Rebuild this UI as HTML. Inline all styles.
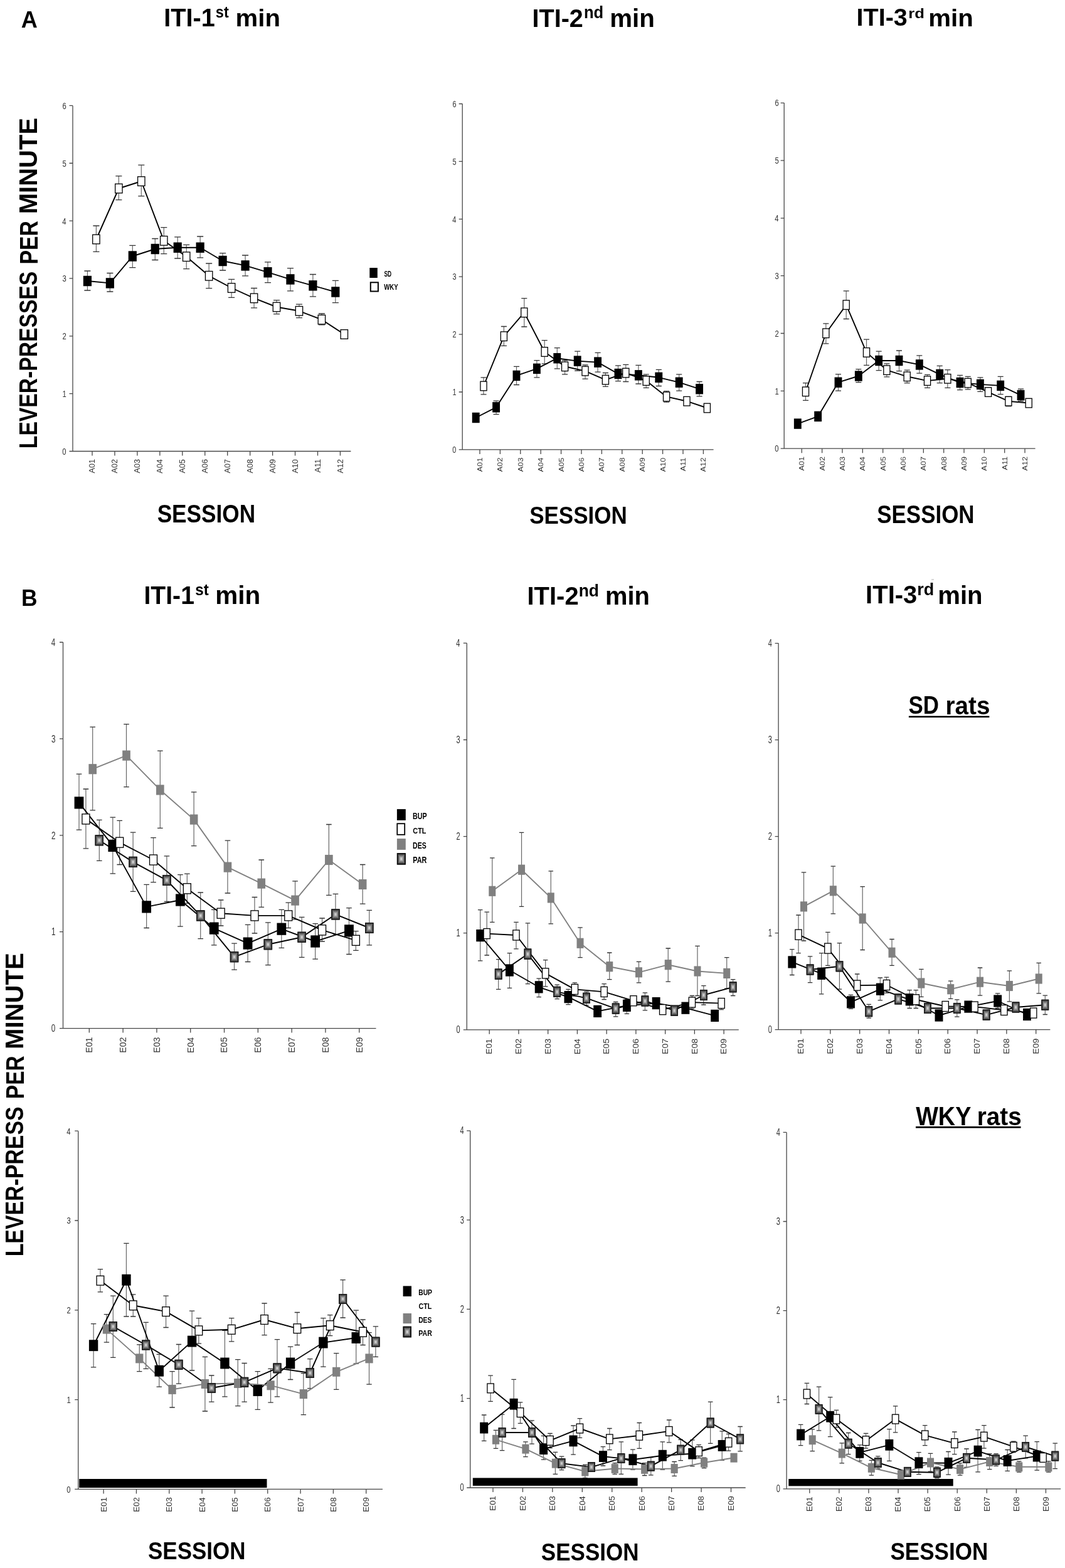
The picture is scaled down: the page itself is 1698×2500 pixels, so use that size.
<!DOCTYPE html>
<html><head><meta charset="utf-8"><title>Lever-presses per minute</title>
<style>html,body{margin:0;padding:0;background:#fff;overflow:hidden;}svg{display:block;}</style></head>
<body>
<svg width="1698" height="2500" viewBox="0 0 1698 2500" font-family="'Liberation Sans', Arial, sans-serif">
<defs>
<linearGradient id="gt" x1="0" y1="0" x2="0" y2="1"><stop offset="0" stop-color="#2a2a2a"/><stop offset="0.4" stop-color="#666"/><stop offset="0.75" stop-color="#b0b0b0"/><stop offset="1" stop-color="#f5f5f5"/></linearGradient>
<linearGradient id="gb" x1="0" y1="1" x2="0" y2="0"><stop offset="0" stop-color="#2a2a2a"/><stop offset="0.4" stop-color="#666"/><stop offset="0.75" stop-color="#b0b0b0"/><stop offset="1" stop-color="#f5f5f5"/></linearGradient>
<linearGradient id="gl" x1="0" y1="0" x2="1" y2="0"><stop offset="0" stop-color="#2a2a2a"/><stop offset="0.4" stop-color="#666"/><stop offset="0.75" stop-color="#b0b0b0"/><stop offset="1" stop-color="#f5f5f5"/></linearGradient>
<linearGradient id="gr" x1="1" y1="0" x2="0" y2="0"><stop offset="0" stop-color="#2a2a2a"/><stop offset="0.4" stop-color="#666"/><stop offset="0.75" stop-color="#b0b0b0"/><stop offset="1" stop-color="#f5f5f5"/></linearGradient>
</defs>
<rect width="1698" height="2500" fill="#fff"/>
<path d="M116.00,168.40V719.50M110.50,719.50H559.40" stroke="#474747" stroke-width="1.3" fill="none"/>
<path d="M110.50,627.65H116.00M110.50,535.80H116.00M110.50,443.95H116.00M110.50,352.10H116.00M110.50,260.25H116.00M110.50,168.40H116.00M147.00,719.50v7M182.95,719.50v7M218.90,719.50v7M254.85,719.50v7M290.80,719.50v7M326.75,719.50v7M362.70,719.50v7M398.65,719.50v7M434.60,719.50v7M470.55,719.50v7M506.50,719.50v7M542.45,719.50v7" stroke="#474747" stroke-width="1.3" fill="none"/>
<text transform="translate(99.35,724.85) scale(0.7263,1.0002)" font-size="15.49" fill="#333">0</text>
<text transform="translate(99.46,633.00) scale(0.7263,1.0002)" font-size="15.49" fill="#333">1</text>
<text transform="translate(99.46,541.22) scale(0.7263,1.0002)" font-size="15.49" fill="#333">2</text>
<text transform="translate(99.46,449.30) scale(0.7263,1.0002)" font-size="15.49" fill="#333">3</text>
<text transform="translate(99.24,357.52) scale(0.7263,1.0002)" font-size="15.49" fill="#333">4</text>
<text transform="translate(99.46,265.52) scale(0.7263,1.0002)" font-size="15.49" fill="#333">5</text>
<text transform="translate(99.46,173.75) scale(0.7263,1.0002)" font-size="15.49" fill="#333">6</text>
<text transform="translate(151.13,754.40) rotate(-90) scale(1.0527,1.0002)" font-size="11.97" fill="#333">A01</text>
<text transform="translate(187.08,754.40) rotate(-90) scale(1.0527,1.0002)" font-size="11.97" fill="#333">A02</text>
<text transform="translate(223.03,754.40) rotate(-90) scale(1.0527,1.0002)" font-size="11.97" fill="#333">A03</text>
<text transform="translate(258.98,754.65) rotate(-90) scale(1.0527,1.0002)" font-size="11.97" fill="#333">A04</text>
<text transform="translate(294.93,754.53) rotate(-90) scale(1.0527,1.0002)" font-size="11.97" fill="#333">A05</text>
<text transform="translate(330.88,754.40) rotate(-90) scale(1.0527,1.0002)" font-size="11.97" fill="#333">A06</text>
<text transform="translate(366.83,754.40) rotate(-90) scale(1.0527,1.0002)" font-size="11.97" fill="#333">A07</text>
<text transform="translate(402.78,754.40) rotate(-90) scale(1.0527,1.0002)" font-size="11.97" fill="#333">A08</text>
<text transform="translate(438.73,754.40) rotate(-90) scale(1.0527,1.0002)" font-size="11.97" fill="#333">A09</text>
<text transform="translate(474.68,754.53) rotate(-90) scale(1.0527,1.0002)" font-size="11.97" fill="#333">A10</text>
<text transform="translate(510.63,753.52) rotate(-90) scale(1.0527,1.0002)" font-size="11.97" fill="#333">A11</text>
<text transform="translate(546.64,754.40) rotate(-90) scale(1.0527,1.0002)" font-size="11.97" fill="#333">A12</text>
<path d="M139.40,432.00V463.00M175.35,435.50V465.00M211.30,391.40V426.70M247.25,380.50V414.50M283.20,377.90V412.00M319.15,377.00V410.80M355.10,403.60V431.00M391.05,407.00V439.80M427.00,417.80V450.70M462.95,427.60V463.90M498.90,437.50V472.80M534.85,447.40V482.70M153.40,360.00V401.30M189.35,280.70V318.60M225.30,263.20V312.60M261.25,362.70V404.60M297.20,390.40V428.60M333.15,420.00V459.60M369.10,445.40V474.40M405.05,459.50V490.80M441.00,478.60V500.70M476.95,485.20V506.70M512.90,500.00V517.90" stroke="#666" stroke-width="1.2" fill="none"/>
<path d="M134.37,432.00h10.066000000000003M134.37,463.00h10.066000000000003M170.32,435.50h10.066000000000003M170.32,465.00h10.066000000000003M206.27,391.40h10.066000000000003M206.27,426.70h10.066000000000003M242.22,380.50h10.066000000000003M242.22,414.50h10.066000000000003M278.17,377.90h10.066000000000003M278.17,412.00h10.066000000000003M314.12,377.00h10.066000000000003M314.12,410.80h10.066000000000003M350.07,403.60h10.066000000000003M350.07,431.00h10.066000000000003M386.02,407.00h10.066000000000003M386.02,439.80h10.066000000000003M421.97,417.80h10.066000000000003M421.97,450.70h10.066000000000003M457.92,427.60h10.066000000000003M457.92,463.90h10.066000000000003M493.87,437.50h10.066000000000003M493.87,472.80h10.066000000000003M529.82,447.40h10.066000000000003M529.82,482.70h10.066000000000003M148.37,360.00h10.066000000000003M148.37,401.30h10.066000000000003M184.32,280.70h10.066000000000003M184.32,318.60h10.066000000000003M220.27,263.20h10.066000000000003M220.27,312.60h10.066000000000003M256.22,362.70h10.066000000000003M256.22,404.60h10.066000000000003M292.17,390.40h10.066000000000003M292.17,428.60h10.066000000000003M328.12,420.00h10.066000000000003M328.12,459.60h10.066000000000003M364.07,445.40h10.066000000000003M364.07,474.40h10.066000000000003M400.02,459.50h10.066000000000003M400.02,490.80h10.066000000000003M435.97,478.60h10.066000000000003M435.97,500.70h10.066000000000003M471.92,485.20h10.066000000000003M471.92,506.70h10.066000000000003M507.87,500.00h10.066000000000003M507.87,517.90h10.066000000000003" stroke="#333" stroke-width="1.3" fill="none"/>
<polyline points="139.40,448.00 175.35,451.40 211.30,408.50 247.25,397.00 283.20,394.70 319.15,394.70 355.10,416.00 391.05,423.40 427.00,434.20 462.95,445.40 498.90,455.30 534.85,465.50" fill="none" stroke="#000" stroke-width="1.9" stroke-linejoin="round"/>
<polyline points="153.40,381.50 189.35,300.50 225.30,289.00 261.25,383.80 297.20,409.20 333.15,439.80 369.10,459.00 405.05,475.40 441.00,489.50 476.95,495.80 512.90,509.60 548.85,533.00" fill="none" stroke="#000" stroke-width="1.9" stroke-linejoin="round"/>
<rect x="132.80" y="439.78" width="13.193650000000002" height="16.441149999999997" fill="#000"/>
<rect x="168.75" y="443.18" width="13.193650000000002" height="16.441149999999997" fill="#000"/>
<rect x="204.70" y="400.28" width="13.193650000000002" height="16.441149999999997" fill="#000"/>
<rect x="240.65" y="388.78" width="13.193650000000002" height="16.441149999999997" fill="#000"/>
<rect x="276.60" y="386.48" width="13.193650000000002" height="16.441149999999997" fill="#000"/>
<rect x="312.55" y="386.48" width="13.193650000000002" height="16.441149999999997" fill="#000"/>
<rect x="348.50" y="407.78" width="13.193650000000002" height="16.441149999999997" fill="#000"/>
<rect x="384.45" y="415.18" width="13.193650000000002" height="16.441149999999997" fill="#000"/>
<rect x="420.40" y="425.98" width="13.193650000000002" height="16.441149999999997" fill="#000"/>
<rect x="456.35" y="437.18" width="13.193650000000002" height="16.441149999999997" fill="#000"/>
<rect x="492.30" y="447.08" width="13.193650000000002" height="16.441149999999997" fill="#000"/>
<rect x="528.25" y="457.28" width="13.193650000000002" height="16.441149999999997" fill="#000"/>
<rect x="147.70" y="374.20" width="11.39" height="14.59" fill="#fff" stroke="#000" stroke-width="1.3"/>
<rect x="183.65" y="293.20" width="11.39" height="14.59" fill="#fff" stroke="#000" stroke-width="1.3"/>
<rect x="219.60" y="281.70" width="11.39" height="14.59" fill="#fff" stroke="#000" stroke-width="1.3"/>
<rect x="255.55" y="376.50" width="11.39" height="14.59" fill="#fff" stroke="#000" stroke-width="1.3"/>
<rect x="291.50" y="401.90" width="11.39" height="14.59" fill="#fff" stroke="#000" stroke-width="1.3"/>
<rect x="327.45" y="432.50" width="11.39" height="14.59" fill="#fff" stroke="#000" stroke-width="1.3"/>
<rect x="363.40" y="451.70" width="11.39" height="14.59" fill="#fff" stroke="#000" stroke-width="1.3"/>
<rect x="399.35" y="468.10" width="11.39" height="14.59" fill="#fff" stroke="#000" stroke-width="1.3"/>
<rect x="435.30" y="482.20" width="11.39" height="14.59" fill="#fff" stroke="#000" stroke-width="1.3"/>
<rect x="471.25" y="488.50" width="11.39" height="14.59" fill="#fff" stroke="#000" stroke-width="1.3"/>
<rect x="507.20" y="502.30" width="11.39" height="14.59" fill="#fff" stroke="#000" stroke-width="1.3"/>
<rect x="543.15" y="525.70" width="11.39" height="14.59" fill="#fff" stroke="#000" stroke-width="1.3"/>
<path d="M737.20,165.50V716.90M731.70,716.90H1137.60" stroke="#474747" stroke-width="1.3" fill="none"/>
<path d="M731.70,625.00H737.20M731.70,533.10H737.20M731.70,441.20H737.20M731.70,349.30H737.20M731.70,257.40H737.20M731.70,165.50H737.20M765.00,716.90v7M797.40,716.90v7M829.80,716.90v7M862.20,716.90v7M894.60,716.90v7M927.00,716.90v7M959.40,716.90v7M991.80,716.90v7M1024.20,716.90v7M1056.60,716.90v7M1089.00,716.90v7M1121.40,716.90v7" stroke="#474747" stroke-width="1.3" fill="none"/>
<text transform="translate(721.27,722.15) scale(0.7123,1.0001)" font-size="15.21" fill="#333">0</text>
<text transform="translate(721.38,630.25) scale(0.7123,1.0001)" font-size="15.21" fill="#333">1</text>
<text transform="translate(721.38,538.42) scale(0.7123,1.0001)" font-size="15.21" fill="#333">2</text>
<text transform="translate(721.38,446.45) scale(0.7123,1.0001)" font-size="15.21" fill="#333">3</text>
<text transform="translate(721.16,354.62) scale(0.7123,1.0001)" font-size="15.21" fill="#333">4</text>
<text transform="translate(721.38,262.57) scale(0.7123,1.0001)" font-size="15.21" fill="#333">5</text>
<text transform="translate(721.38,170.75) scale(0.7123,1.0001)" font-size="15.21" fill="#333">6</text>
<text transform="translate(768.98,752.20) rotate(-90) scale(1.1060,0.9999)" font-size="11.55" fill="#333">A01</text>
<text transform="translate(801.38,752.20) rotate(-90) scale(1.1060,0.9999)" font-size="11.55" fill="#333">A02</text>
<text transform="translate(833.78,752.20) rotate(-90) scale(1.1060,0.9999)" font-size="11.55" fill="#333">A03</text>
<text transform="translate(866.18,752.46) rotate(-90) scale(1.1060,0.9999)" font-size="11.55" fill="#333">A04</text>
<text transform="translate(898.58,752.33) rotate(-90) scale(1.1060,0.9999)" font-size="11.55" fill="#333">A05</text>
<text transform="translate(930.98,752.20) rotate(-90) scale(1.1060,0.9999)" font-size="11.55" fill="#333">A06</text>
<text transform="translate(963.38,752.20) rotate(-90) scale(1.1060,0.9999)" font-size="11.55" fill="#333">A07</text>
<text transform="translate(995.78,752.20) rotate(-90) scale(1.1060,0.9999)" font-size="11.55" fill="#333">A08</text>
<text transform="translate(1028.18,752.20) rotate(-90) scale(1.1060,0.9999)" font-size="11.55" fill="#333">A09</text>
<text transform="translate(1060.58,752.33) rotate(-90) scale(1.1060,0.9999)" font-size="11.55" fill="#333">A10</text>
<text transform="translate(1092.98,751.31) rotate(-90) scale(1.1060,0.9999)" font-size="11.55" fill="#333">A11</text>
<text transform="translate(1125.44,752.20) rotate(-90) scale(1.1060,0.9999)" font-size="11.55" fill="#333">A12</text>
<path d="M791.10,639.10V660.70M823.50,584.30V613.50M855.90,574.70V601.80M888.30,554.60V587.80M920.70,560.10V591.00M953.10,562.40V593.10M985.50,582.90V607.60M1017.90,582.30V612.00M1050.30,589.30V615.50M1082.70,596.90V623.10M1115.10,608.50V631.80M771.00,601.80V628.90M803.40,520.50V551.40M835.80,475.60V521.00M868.20,542.60V579.90M900.60,574.70V596.90M933.00,582.00V604.10M965.40,594.50V616.40M997.80,581.40V608.50M1030.20,596.90V618.40M1062.60,623.70V641.20" stroke="#666" stroke-width="1.2" fill="none"/>
<path d="M786.56,639.10h9.072000000000001M786.56,660.70h9.072000000000001M818.96,584.30h9.072000000000001M818.96,613.50h9.072000000000001M851.36,574.70h9.072000000000001M851.36,601.80h9.072000000000001M883.76,554.60h9.072000000000001M883.76,587.80h9.072000000000001M916.16,560.10h9.072000000000001M916.16,591.00h9.072000000000001M948.56,562.40h9.072000000000001M948.56,593.10h9.072000000000001M980.96,582.90h9.072000000000001M980.96,607.60h9.072000000000001M1013.36,582.30h9.072000000000001M1013.36,612.00h9.072000000000001M1045.76,589.30h9.072000000000001M1045.76,615.50h9.072000000000001M1078.16,596.90h9.072000000000001M1078.16,623.10h9.072000000000001M1110.56,608.50h9.072000000000001M1110.56,631.80h9.072000000000001M766.46,601.80h9.072000000000001M766.46,628.90h9.072000000000001M798.86,520.50h9.072000000000001M798.86,551.40h9.072000000000001M831.26,475.60h9.072000000000001M831.26,521.00h9.072000000000001M863.66,542.60h9.072000000000001M863.66,579.90h9.072000000000001M896.06,574.70h9.072000000000001M896.06,596.90h9.072000000000001M928.46,582.00h9.072000000000001M928.46,604.10h9.072000000000001M960.86,594.50h9.072000000000001M960.86,616.40h9.072000000000001M993.26,581.40h9.072000000000001M993.26,608.50h9.072000000000001M1025.66,596.90h9.072000000000001M1025.66,618.40h9.072000000000001M1058.06,623.70h9.072000000000001M1058.06,641.20h9.072000000000001" stroke="#333" stroke-width="1.3" fill="none"/>
<polyline points="758.70,666.00 791.10,649.30 823.50,598.90 855.90,587.80 888.30,571.20 920.70,575.60 953.10,577.60 985.50,596.00 1017.90,598.30 1050.30,601.80 1082.70,609.70 1115.10,620.20" fill="none" stroke="#000" stroke-width="1.9" stroke-linejoin="round"/>
<polyline points="771.00,615.50 803.40,536.20 835.80,498.30 868.20,561.00 900.60,584.30 933.00,591.60 965.40,605.60 997.80,594.50 1030.20,607.10 1062.60,632.40 1095.00,639.70 1127.40,650.50" fill="none" stroke="#000" stroke-width="1.9" stroke-linejoin="round"/>
<rect x="752.75" y="657.77" width="11.890799999999999" height="16.4501" fill="#000"/>
<rect x="785.15" y="641.07" width="11.890799999999999" height="16.4501" fill="#000"/>
<rect x="817.55" y="590.67" width="11.890799999999999" height="16.4501" fill="#000"/>
<rect x="849.95" y="579.57" width="11.890799999999999" height="16.4501" fill="#000"/>
<rect x="882.35" y="562.97" width="11.890799999999999" height="16.4501" fill="#000"/>
<rect x="914.75" y="567.37" width="11.890799999999999" height="16.4501" fill="#000"/>
<rect x="947.15" y="569.37" width="11.890799999999999" height="16.4501" fill="#000"/>
<rect x="979.55" y="587.77" width="11.890799999999999" height="16.4501" fill="#000"/>
<rect x="1011.95" y="590.07" width="11.890799999999999" height="16.4501" fill="#000"/>
<rect x="1044.35" y="593.57" width="11.890799999999999" height="16.4501" fill="#000"/>
<rect x="1076.75" y="601.47" width="11.890799999999999" height="16.4501" fill="#000"/>
<rect x="1109.15" y="611.97" width="11.890799999999999" height="16.4501" fill="#000"/>
<rect x="765.93" y="608.20" width="10.14" height="14.60" fill="#fff" stroke="#000" stroke-width="1.3"/>
<rect x="798.33" y="528.90" width="10.14" height="14.60" fill="#fff" stroke="#000" stroke-width="1.3"/>
<rect x="830.73" y="491.00" width="10.14" height="14.60" fill="#fff" stroke="#000" stroke-width="1.3"/>
<rect x="863.13" y="553.70" width="10.14" height="14.60" fill="#fff" stroke="#000" stroke-width="1.3"/>
<rect x="895.53" y="577.00" width="10.14" height="14.60" fill="#fff" stroke="#000" stroke-width="1.3"/>
<rect x="927.93" y="584.30" width="10.14" height="14.60" fill="#fff" stroke="#000" stroke-width="1.3"/>
<rect x="960.33" y="598.30" width="10.14" height="14.60" fill="#fff" stroke="#000" stroke-width="1.3"/>
<rect x="992.73" y="587.20" width="10.14" height="14.60" fill="#fff" stroke="#000" stroke-width="1.3"/>
<rect x="1025.13" y="599.80" width="10.14" height="14.60" fill="#fff" stroke="#000" stroke-width="1.3"/>
<rect x="1057.53" y="625.10" width="10.14" height="14.60" fill="#fff" stroke="#000" stroke-width="1.3"/>
<rect x="1089.93" y="632.40" width="10.14" height="14.60" fill="#fff" stroke="#000" stroke-width="1.3"/>
<rect x="1122.33" y="643.20" width="10.14" height="14.60" fill="#fff" stroke="#000" stroke-width="1.3"/>
<path d="M1250.20,164.10V715.20M1244.70,715.20H1650.60" stroke="#474747" stroke-width="1.3" fill="none"/>
<path d="M1244.70,623.35H1250.20M1244.70,531.50H1250.20M1244.70,439.65H1250.20M1244.70,347.80H1250.20M1244.70,255.95H1250.20M1244.70,164.10H1250.20M1278.30,715.20v7M1310.64,715.20v7M1342.98,715.20v7M1375.32,715.20v7M1407.66,715.20v7M1440.00,715.20v7M1472.34,715.20v7M1504.68,715.20v7M1537.02,715.20v7M1569.36,715.20v7M1601.70,715.20v7M1634.04,715.20v7" stroke="#474747" stroke-width="1.3" fill="none"/>
<text transform="translate(1235.35,720.45) scale(0.7396,1.0001)" font-size="15.21" fill="#333">0</text>
<text transform="translate(1235.46,628.60) scale(0.7396,1.0001)" font-size="15.21" fill="#333">1</text>
<text transform="translate(1235.46,536.82) scale(0.7396,1.0001)" font-size="15.21" fill="#333">2</text>
<text transform="translate(1235.46,444.90) scale(0.7396,1.0001)" font-size="15.21" fill="#333">3</text>
<text transform="translate(1235.24,353.12) scale(0.7396,1.0001)" font-size="15.21" fill="#333">4</text>
<text transform="translate(1235.46,261.12) scale(0.7396,1.0001)" font-size="15.21" fill="#333">5</text>
<text transform="translate(1235.46,169.35) scale(0.7396,1.0001)" font-size="15.21" fill="#333">6</text>
<text transform="translate(1282.28,750.50) rotate(-90) scale(1.1060,0.9999)" font-size="11.55" fill="#333">A01</text>
<text transform="translate(1314.62,750.50) rotate(-90) scale(1.1060,0.9999)" font-size="11.55" fill="#333">A02</text>
<text transform="translate(1346.96,750.50) rotate(-90) scale(1.1060,0.9999)" font-size="11.55" fill="#333">A03</text>
<text transform="translate(1379.30,750.76) rotate(-90) scale(1.1060,0.9999)" font-size="11.55" fill="#333">A04</text>
<text transform="translate(1411.64,750.63) rotate(-90) scale(1.1060,0.9999)" font-size="11.55" fill="#333">A05</text>
<text transform="translate(1443.98,750.50) rotate(-90) scale(1.1060,0.9999)" font-size="11.55" fill="#333">A06</text>
<text transform="translate(1476.32,750.50) rotate(-90) scale(1.1060,0.9999)" font-size="11.55" fill="#333">A07</text>
<text transform="translate(1508.66,750.50) rotate(-90) scale(1.1060,0.9999)" font-size="11.55" fill="#333">A08</text>
<text transform="translate(1541.00,750.50) rotate(-90) scale(1.1060,0.9999)" font-size="11.55" fill="#333">A09</text>
<text transform="translate(1573.34,750.63) rotate(-90) scale(1.1060,0.9999)" font-size="11.55" fill="#333">A10</text>
<text transform="translate(1605.68,749.61) rotate(-90) scale(1.1060,0.9999)" font-size="11.55" fill="#333">A11</text>
<text transform="translate(1638.08,750.50) rotate(-90) scale(1.1060,0.9999)" font-size="11.55" fill="#333">A12</text>
<path d="M1336.48,596.60V623.10M1368.82,588.70V609.70M1401.16,560.10V590.70M1433.50,559.00V591.60M1465.84,566.80V595.10M1498.18,583.40V610.60M1530.52,598.30V621.60M1562.86,601.80V624.30M1595.20,600.30V628.60M1627.54,620.20V639.70M1284.50,610.60V638.30M1316.84,515.80V547.90M1349.18,463.90V508.50M1381.52,541.20V582.30M1413.86,579.90V600.90M1446.20,590.10V610.60M1478.54,597.40V618.40M1510.88,589.60V618.40M1543.22,600.30V620.80M1575.56,617.80V631.80M1607.90,632.40V647.60" stroke="#666" stroke-width="1.2" fill="none"/>
<path d="M1331.95,596.60h9.055200000000001M1331.95,623.10h9.055200000000001M1364.29,588.70h9.055200000000001M1364.29,609.70h9.055200000000001M1396.63,560.10h9.055200000000001M1396.63,590.70h9.055200000000001M1428.97,559.00h9.055200000000001M1428.97,591.60h9.055200000000001M1461.31,566.80h9.055200000000001M1461.31,595.10h9.055200000000001M1493.65,583.40h9.055200000000001M1493.65,610.60h9.055200000000001M1525.99,598.30h9.055200000000001M1525.99,621.60h9.055200000000001M1558.33,601.80h9.055200000000001M1558.33,624.30h9.055200000000001M1590.67,600.30h9.055200000000001M1590.67,628.60h9.055200000000001M1623.01,620.20h9.055200000000001M1623.01,639.70h9.055200000000001M1279.97,610.60h9.055200000000001M1279.97,638.30h9.055200000000001M1312.31,515.80h9.055200000000001M1312.31,547.90h9.055200000000001M1344.65,463.90h9.055200000000001M1344.65,508.50h9.055200000000001M1376.99,541.20h9.055200000000001M1376.99,582.30h9.055200000000001M1409.33,579.90h9.055200000000001M1409.33,600.90h9.055200000000001M1441.67,590.10h9.055200000000001M1441.67,610.60h9.055200000000001M1474.01,597.40h9.055200000000001M1474.01,618.40h9.055200000000001M1506.35,589.60h9.055200000000001M1506.35,618.40h9.055200000000001M1538.69,600.30h9.055200000000001M1538.69,620.80h9.055200000000001M1571.03,617.80h9.055200000000001M1571.03,631.80h9.055200000000001M1603.37,632.40h9.055200000000001M1603.37,647.60h9.055200000000001" stroke="#333" stroke-width="1.3" fill="none"/>
<polyline points="1271.80,675.60 1304.14,663.90 1336.48,609.70 1368.82,599.50 1401.16,575.00 1433.50,575.00 1465.84,581.40 1498.18,596.90 1530.52,610.00 1562.86,612.90 1595.20,614.90 1627.54,630.10" fill="none" stroke="#000" stroke-width="1.9" stroke-linejoin="round"/>
<polyline points="1284.50,624.30 1316.84,531.30 1349.18,486.10 1381.52,561.90 1413.86,590.10 1446.20,600.30 1478.54,607.10 1510.88,603.80 1543.22,610.60 1575.56,625.10 1607.90,639.70 1640.24,642.60" fill="none" stroke="#000" stroke-width="1.9" stroke-linejoin="round"/>
<rect x="1265.87" y="667.38" width="11.868780000000001" height="16.441149999999997" fill="#000"/>
<rect x="1298.21" y="655.68" width="11.868780000000001" height="16.441149999999997" fill="#000"/>
<rect x="1330.55" y="601.48" width="11.868780000000001" height="16.441149999999997" fill="#000"/>
<rect x="1362.89" y="591.28" width="11.868780000000001" height="16.441149999999997" fill="#000"/>
<rect x="1395.23" y="566.78" width="11.868780000000001" height="16.441149999999997" fill="#000"/>
<rect x="1427.57" y="566.78" width="11.868780000000001" height="16.441149999999997" fill="#000"/>
<rect x="1459.91" y="573.18" width="11.868780000000001" height="16.441149999999997" fill="#000"/>
<rect x="1492.25" y="588.68" width="11.868780000000001" height="16.441149999999997" fill="#000"/>
<rect x="1524.59" y="601.78" width="11.868780000000001" height="16.441149999999997" fill="#000"/>
<rect x="1556.93" y="604.68" width="11.868780000000001" height="16.441149999999997" fill="#000"/>
<rect x="1589.27" y="606.68" width="11.868780000000001" height="16.441149999999997" fill="#000"/>
<rect x="1621.61" y="621.88" width="11.868780000000001" height="16.441149999999997" fill="#000"/>
<rect x="1279.44" y="617.00" width="10.12" height="14.59" fill="#fff" stroke="#000" stroke-width="1.3"/>
<rect x="1311.78" y="524.00" width="10.12" height="14.59" fill="#fff" stroke="#000" stroke-width="1.3"/>
<rect x="1344.12" y="478.80" width="10.12" height="14.59" fill="#fff" stroke="#000" stroke-width="1.3"/>
<rect x="1376.46" y="554.60" width="10.12" height="14.59" fill="#fff" stroke="#000" stroke-width="1.3"/>
<rect x="1408.80" y="582.80" width="10.12" height="14.59" fill="#fff" stroke="#000" stroke-width="1.3"/>
<rect x="1441.14" y="593.00" width="10.12" height="14.59" fill="#fff" stroke="#000" stroke-width="1.3"/>
<rect x="1473.48" y="599.80" width="10.12" height="14.59" fill="#fff" stroke="#000" stroke-width="1.3"/>
<rect x="1505.82" y="596.50" width="10.12" height="14.59" fill="#fff" stroke="#000" stroke-width="1.3"/>
<rect x="1538.16" y="603.30" width="10.12" height="14.59" fill="#fff" stroke="#000" stroke-width="1.3"/>
<rect x="1570.50" y="617.80" width="10.12" height="14.59" fill="#fff" stroke="#000" stroke-width="1.3"/>
<rect x="1602.84" y="632.40" width="10.12" height="14.59" fill="#fff" stroke="#000" stroke-width="1.3"/>
<rect x="1635.18" y="635.30" width="10.12" height="14.59" fill="#fff" stroke="#000" stroke-width="1.3"/>
<path d="M100.50,1024.00V1639.60M95.00,1639.60H599.50" stroke="#474747" stroke-width="1.3" fill="none"/>
<path d="M95.00,1485.70H100.50M95.00,1331.80H100.50M95.00,1177.90H100.50M95.00,1024.00H100.50M142.30,1639.60v7M196.11,1639.60v7M249.92,1639.60v7M303.73,1639.60v7M357.54,1639.60v7M411.35,1639.60v7M465.16,1639.60v7M518.97,1639.60v7M572.78,1639.60v7" stroke="#474747" stroke-width="1.3" fill="none"/>
<text transform="translate(81.83,1645.33) scale(0.7020,1.0000)" font-size="16.62" fill="#333">0</text>
<text transform="translate(81.95,1491.43) scale(0.7020,1.0000)" font-size="16.62" fill="#333">1</text>
<text transform="translate(81.95,1337.62) scale(0.7020,1.0000)" font-size="16.62" fill="#333">2</text>
<text transform="translate(81.95,1183.63) scale(0.7020,1.0000)" font-size="16.62" fill="#333">3</text>
<text transform="translate(81.72,1029.82) scale(0.7020,1.0000)" font-size="16.62" fill="#333">4</text>
<text transform="translate(147.11,1678.68) rotate(-90) scale(1.0130,1.0003)" font-size="13.94" fill="#333">E01</text>
<text transform="translate(200.92,1678.68) rotate(-90) scale(1.0130,1.0003)" font-size="13.94" fill="#333">E02</text>
<text transform="translate(254.73,1678.68) rotate(-90) scale(1.0130,1.0003)" font-size="13.94" fill="#333">E03</text>
<text transform="translate(308.54,1678.96) rotate(-90) scale(1.0130,1.0003)" font-size="13.94" fill="#333">E04</text>
<text transform="translate(362.35,1678.82) rotate(-90) scale(1.0130,1.0003)" font-size="13.94" fill="#333">E05</text>
<text transform="translate(416.16,1678.68) rotate(-90) scale(1.0130,1.0003)" font-size="13.94" fill="#333">E06</text>
<text transform="translate(469.97,1678.68) rotate(-90) scale(1.0130,1.0003)" font-size="13.94" fill="#333">E07</text>
<text transform="translate(523.78,1678.68) rotate(-90) scale(1.0130,1.0003)" font-size="13.94" fill="#333">E08</text>
<text transform="translate(577.59,1678.68) rotate(-90) scale(1.0130,1.0003)" font-size="13.94" fill="#333">E09</text>
<path d="M126.00,1234.10V1323.10M179.81,1303.20V1392.90M233.62,1410.30V1479.50M287.43,1394.60V1477.10M341.24,1450.40V1506.80M395.05,1474.30V1533.50M448.86,1450.40V1511.30M502.67,1472.60V1529.10M556.48,1447.60V1521.50M136.90,1258.00V1352.80M190.71,1308.30V1378.50M244.52,1335.70V1406.60M298.33,1393.20V1440.10M352.14,1435.00V1476.00M405.95,1430.50V1488.00M459.76,1439.10V1479.50M513.57,1464.00V1501.00M567.38,1484.60V1515.40M147.70,1159.10V1291.90M201.51,1154.70V1254.60M255.32,1197.10V1320.30M309.13,1262.80V1348.70M362.94,1340.20V1424.00M416.75,1371.00V1446.30M470.56,1404.80V1465.80M524.37,1314.50V1427.40M578.18,1378.50V1441.10M158.30,1307.30V1372.30M212.11,1327.20V1421.30M265.92,1364.80V1437.40M319.73,1423.00V1496.60M373.54,1504.10V1546.20M427.35,1470.90V1538.70M481.16,1462.30V1526.30M534.97,1425.40V1489.70M588.78,1451.40V1506.80" stroke="#666" stroke-width="1.2" fill="none"/>
<path d="M121.70,1234.10h8.6096M121.70,1323.10h8.6096M175.51,1303.20h8.6096M175.51,1392.90h8.6096M229.32,1410.30h8.6096M229.32,1479.50h8.6096M283.13,1394.60h8.6096M283.13,1477.10h8.6096M336.94,1450.40h8.6096M336.94,1506.80h8.6096M390.75,1474.30h8.6096M390.75,1533.50h8.6096M444.56,1450.40h8.6096M444.56,1511.30h8.6096M498.37,1472.60h8.6096M498.37,1529.10h8.6096M552.18,1447.60h8.6096M552.18,1521.50h8.6096M132.60,1258.00h8.6096M132.60,1352.80h8.6096M186.41,1308.30h8.6096M186.41,1378.50h8.6096M240.22,1335.70h8.6096M240.22,1406.60h8.6096M294.03,1393.20h8.6096M294.03,1440.10h8.6096M347.84,1435.00h8.6096M347.84,1476.00h8.6096M401.65,1430.50h8.6096M401.65,1488.00h8.6096M455.46,1439.10h8.6096M455.46,1479.50h8.6096M509.27,1464.00h8.6096M509.27,1501.00h8.6096M563.08,1484.60h8.6096M563.08,1515.40h8.6096M143.40,1159.10h8.6096M143.40,1291.90h8.6096M197.21,1154.70h8.6096M197.21,1254.60h8.6096M251.02,1197.10h8.6096M251.02,1320.30h8.6096M304.83,1262.80h8.6096M304.83,1348.70h8.6096M358.64,1340.20h8.6096M358.64,1424.00h8.6096M412.45,1371.00h8.6096M412.45,1446.30h8.6096M466.26,1404.80h8.6096M466.26,1465.80h8.6096M520.07,1314.50h8.6096M520.07,1427.40h8.6096M573.88,1378.50h8.6096M573.88,1441.10h8.6096M154.00,1307.30h8.6096M154.00,1372.30h8.6096M207.81,1327.20h8.6096M207.81,1421.30h8.6096M261.62,1364.80h8.6096M261.62,1437.40h8.6096M315.43,1423.00h8.6096M315.43,1496.60h8.6096M369.24,1504.10h8.6096M369.24,1546.20h8.6096M423.05,1470.90h8.6096M423.05,1538.70h8.6096M476.86,1462.30h8.6096M476.86,1526.30h8.6096M530.67,1425.40h8.6096M530.67,1489.70h8.6096M584.48,1451.40h8.6096M584.48,1506.80h8.6096" stroke="#333" stroke-width="1.3" fill="none"/>
<polyline points="126.00,1279.90 179.81,1348.40 233.62,1445.90 287.43,1435.00 341.24,1480.10 395.05,1504.10 448.86,1481.20 502.67,1501.00 556.48,1483.90" fill="none" stroke="#000" stroke-width="1.9" stroke-linejoin="round"/>
<polyline points="136.90,1305.90 190.71,1343.20 244.52,1371.00 298.33,1416.80 352.14,1456.20 405.95,1459.90 459.76,1459.90 513.57,1482.90 567.38,1499.30" fill="none" stroke="#000" stroke-width="1.9" stroke-linejoin="round"/>
<polyline points="147.70,1226.20 201.51,1204.60 255.32,1259.40 309.13,1306.60 362.94,1382.60 416.75,1408.60 470.56,1435.60 524.37,1371.00 578.18,1410.00" fill="none" stroke="#808080" stroke-width="1.9" stroke-linejoin="round"/>
<polyline points="158.30,1339.80 212.11,1374.40 265.92,1403.50 319.73,1459.90 373.54,1525.70 427.35,1505.80 481.16,1494.20 534.97,1457.90 588.78,1479.50" fill="none" stroke="#000" stroke-width="1.9" stroke-linejoin="round"/>
<rect x="118.60" y="1270.28" width="14.797750000000002" height="19.2375" fill="#000"/>
<rect x="172.41" y="1338.78" width="14.797750000000002" height="19.2375" fill="#000"/>
<rect x="226.22" y="1436.28" width="14.797750000000002" height="19.2375" fill="#000"/>
<rect x="280.03" y="1425.38" width="14.797750000000002" height="19.2375" fill="#000"/>
<rect x="333.84" y="1470.48" width="14.797750000000002" height="19.2375" fill="#000"/>
<rect x="387.65" y="1494.48" width="14.797750000000002" height="19.2375" fill="#000"/>
<rect x="441.46" y="1471.58" width="14.797750000000002" height="19.2375" fill="#000"/>
<rect x="495.27" y="1491.38" width="14.797750000000002" height="19.2375" fill="#000"/>
<rect x="549.08" y="1474.28" width="14.797750000000002" height="19.2375" fill="#000"/>
<rect x="130.90" y="1297.85" width="11.99" height="16.09" fill="#fff" stroke="#000" stroke-width="1.3"/>
<rect x="184.71" y="1335.15" width="11.99" height="16.09" fill="#fff" stroke="#000" stroke-width="1.3"/>
<rect x="238.52" y="1362.95" width="11.99" height="16.09" fill="#fff" stroke="#000" stroke-width="1.3"/>
<rect x="292.33" y="1408.75" width="11.99" height="16.09" fill="#fff" stroke="#000" stroke-width="1.3"/>
<rect x="346.14" y="1448.15" width="11.99" height="16.09" fill="#fff" stroke="#000" stroke-width="1.3"/>
<rect x="399.95" y="1451.85" width="11.99" height="16.09" fill="#fff" stroke="#000" stroke-width="1.3"/>
<rect x="453.76" y="1451.85" width="11.99" height="16.09" fill="#fff" stroke="#000" stroke-width="1.3"/>
<rect x="507.57" y="1474.85" width="11.99" height="16.09" fill="#fff" stroke="#000" stroke-width="1.3"/>
<rect x="561.38" y="1491.25" width="11.99" height="16.09" fill="#fff" stroke="#000" stroke-width="1.3"/>
<rect x="141.38" y="1218.12" width="12.64535" height="16.1595" fill="#808080"/>
<rect x="195.19" y="1196.52" width="12.64535" height="16.1595" fill="#808080"/>
<rect x="249.00" y="1251.32" width="12.64535" height="16.1595" fill="#808080"/>
<rect x="302.81" y="1298.52" width="12.64535" height="16.1595" fill="#808080"/>
<rect x="356.62" y="1374.52" width="12.64535" height="16.1595" fill="#808080"/>
<rect x="410.43" y="1400.52" width="12.64535" height="16.1595" fill="#808080"/>
<rect x="464.24" y="1427.52" width="12.64535" height="16.1595" fill="#808080"/>
<rect x="518.05" y="1362.92" width="12.64535" height="16.1595" fill="#808080"/>
<rect x="571.86" y="1401.92" width="12.64535" height="16.1595" fill="#808080"/>
<rect x="151.57" y="1331.26" width="13.45" height="17.08" fill="#8a8a8a"/><polygon points="151.57,1331.26 165.03,1331.26 158.30,1339.80" fill="url(#gt)"/><polygon points="151.57,1348.34 165.03,1348.34 158.30,1339.80" fill="url(#gb)"/><polygon points="151.57,1331.26 151.57,1348.34 158.30,1339.80" fill="url(#gl)"/><polygon points="165.03,1331.26 165.03,1348.34 158.30,1339.80" fill="url(#gr)"/><rect x="152.32" y="1332.01" width="11.95" height="15.58" fill="none" stroke="#1a1a1a" stroke-width="1.5"/>
<rect x="205.38" y="1365.86" width="13.45" height="17.08" fill="#8a8a8a"/><polygon points="205.38,1365.86 218.84,1365.86 212.11,1374.40" fill="url(#gt)"/><polygon points="205.38,1382.94 218.84,1382.94 212.11,1374.40" fill="url(#gb)"/><polygon points="205.38,1365.86 205.38,1382.94 212.11,1374.40" fill="url(#gl)"/><polygon points="218.84,1365.86 218.84,1382.94 212.11,1374.40" fill="url(#gr)"/><rect x="206.13" y="1366.61" width="11.95" height="15.58" fill="none" stroke="#1a1a1a" stroke-width="1.5"/>
<rect x="259.19" y="1394.96" width="13.45" height="17.08" fill="#8a8a8a"/><polygon points="259.19,1394.96 272.65,1394.96 265.92,1403.50" fill="url(#gt)"/><polygon points="259.19,1412.04 272.65,1412.04 265.92,1403.50" fill="url(#gb)"/><polygon points="259.19,1394.96 259.19,1412.04 265.92,1403.50" fill="url(#gl)"/><polygon points="272.65,1394.96 272.65,1412.04 265.92,1403.50" fill="url(#gr)"/><rect x="259.94" y="1395.71" width="11.95" height="15.58" fill="none" stroke="#1a1a1a" stroke-width="1.5"/>
<rect x="313.00" y="1451.36" width="13.45" height="17.08" fill="#8a8a8a"/><polygon points="313.00,1451.36 326.46,1451.36 319.73,1459.90" fill="url(#gt)"/><polygon points="313.00,1468.44 326.46,1468.44 319.73,1459.90" fill="url(#gb)"/><polygon points="313.00,1451.36 313.00,1468.44 319.73,1459.90" fill="url(#gl)"/><polygon points="326.46,1451.36 326.46,1468.44 319.73,1459.90" fill="url(#gr)"/><rect x="313.75" y="1452.11" width="11.95" height="15.58" fill="none" stroke="#1a1a1a" stroke-width="1.5"/>
<rect x="366.81" y="1517.16" width="13.45" height="17.08" fill="#8a8a8a"/><polygon points="366.81,1517.16 380.27,1517.16 373.54,1525.70" fill="url(#gt)"/><polygon points="366.81,1534.24 380.27,1534.24 373.54,1525.70" fill="url(#gb)"/><polygon points="366.81,1517.16 366.81,1534.24 373.54,1525.70" fill="url(#gl)"/><polygon points="380.27,1517.16 380.27,1534.24 373.54,1525.70" fill="url(#gr)"/><rect x="367.56" y="1517.91" width="11.95" height="15.58" fill="none" stroke="#1a1a1a" stroke-width="1.5"/>
<rect x="420.62" y="1497.26" width="13.45" height="17.08" fill="#8a8a8a"/><polygon points="420.62,1497.26 434.08,1497.26 427.35,1505.80" fill="url(#gt)"/><polygon points="420.62,1514.34 434.08,1514.34 427.35,1505.80" fill="url(#gb)"/><polygon points="420.62,1497.26 420.62,1514.34 427.35,1505.80" fill="url(#gl)"/><polygon points="434.08,1497.26 434.08,1514.34 427.35,1505.80" fill="url(#gr)"/><rect x="421.37" y="1498.01" width="11.95" height="15.58" fill="none" stroke="#1a1a1a" stroke-width="1.5"/>
<rect x="474.43" y="1485.66" width="13.45" height="17.08" fill="#8a8a8a"/><polygon points="474.43,1485.66 487.89,1485.66 481.16,1494.20" fill="url(#gt)"/><polygon points="474.43,1502.74 487.89,1502.74 481.16,1494.20" fill="url(#gb)"/><polygon points="474.43,1485.66 474.43,1502.74 481.16,1494.20" fill="url(#gl)"/><polygon points="487.89,1485.66 487.89,1502.74 481.16,1494.20" fill="url(#gr)"/><rect x="475.18" y="1486.41" width="11.95" height="15.58" fill="none" stroke="#1a1a1a" stroke-width="1.5"/>
<rect x="528.24" y="1449.36" width="13.45" height="17.08" fill="#8a8a8a"/><polygon points="528.24,1449.36 541.70,1449.36 534.97,1457.90" fill="url(#gt)"/><polygon points="528.24,1466.44 541.70,1466.44 534.97,1457.90" fill="url(#gb)"/><polygon points="528.24,1449.36 528.24,1466.44 534.97,1457.90" fill="url(#gl)"/><polygon points="541.70,1449.36 541.70,1466.44 534.97,1457.90" fill="url(#gr)"/><rect x="528.99" y="1450.11" width="11.95" height="15.58" fill="none" stroke="#1a1a1a" stroke-width="1.5"/>
<rect x="582.05" y="1470.96" width="13.45" height="17.08" fill="#8a8a8a"/><polygon points="582.05,1470.96 595.51,1470.96 588.78,1479.50" fill="url(#gt)"/><polygon points="582.05,1488.04 595.51,1488.04 588.78,1479.50" fill="url(#gb)"/><polygon points="582.05,1470.96 582.05,1488.04 588.78,1479.50" fill="url(#gl)"/><polygon points="595.51,1470.96 595.51,1488.04 588.78,1479.50" fill="url(#gr)"/><rect x="582.80" y="1471.71" width="11.95" height="15.58" fill="none" stroke="#1a1a1a" stroke-width="1.5"/>
<path d="M744.30,1025.40V1641.80M738.80,1641.80H1177.80" stroke="#474747" stroke-width="1.3" fill="none"/>
<path d="M738.80,1487.70H744.30M738.80,1333.60H744.30M738.80,1179.50H744.30M738.80,1025.40H744.30M780.20,1641.80v7M826.94,1641.80v7M873.68,1641.80v7M920.42,1641.80v7M967.16,1641.80v7M1013.90,1641.80v7M1060.64,1641.80v7M1107.38,1641.80v7M1154.12,1641.80v7" stroke="#474747" stroke-width="1.3" fill="none"/>
<text transform="translate(727.46,1647.24) scale(0.7002,1.0003)" font-size="15.77" fill="#333">0</text>
<text transform="translate(727.57,1493.14) scale(0.7002,1.0003)" font-size="15.77" fill="#333">1</text>
<text transform="translate(727.57,1339.12) scale(0.7002,1.0003)" font-size="15.77" fill="#333">2</text>
<text transform="translate(727.57,1184.94) scale(0.7002,1.0003)" font-size="15.77" fill="#333">3</text>
<text transform="translate(727.35,1030.92) scale(0.7002,1.0003)" font-size="15.77" fill="#333">4</text>
<text transform="translate(784.43,1680.98) rotate(-90) scale(1.1528,1.0003)" font-size="12.25" fill="#333">E01</text>
<text transform="translate(831.17,1680.98) rotate(-90) scale(1.1528,1.0003)" font-size="12.25" fill="#333">E02</text>
<text transform="translate(877.91,1680.98) rotate(-90) scale(1.1528,1.0003)" font-size="12.25" fill="#333">E03</text>
<text transform="translate(924.65,1681.26) rotate(-90) scale(1.1528,1.0003)" font-size="12.25" fill="#333">E04</text>
<text transform="translate(971.39,1681.12) rotate(-90) scale(1.1528,1.0003)" font-size="12.25" fill="#333">E05</text>
<text transform="translate(1018.13,1680.98) rotate(-90) scale(1.1528,1.0003)" font-size="12.25" fill="#333">E06</text>
<text transform="translate(1064.87,1680.98) rotate(-90) scale(1.1528,1.0003)" font-size="12.25" fill="#333">E07</text>
<text transform="translate(1111.61,1680.98) rotate(-90) scale(1.1528,1.0003)" font-size="12.25" fill="#333">E08</text>
<text transform="translate(1158.35,1680.98) rotate(-90) scale(1.1528,1.0003)" font-size="12.25" fill="#333">E09</text>
<path d="M765.70,1450.60V1531.80M812.44,1519.60V1575.30M859.18,1560.10V1589.60M905.92,1577.40V1601.70M999.40,1593.50V1616.30M1046.14,1591.10V1607.80M1092.88,1599.00V1614.80M776.20,1454.20V1523.00M822.94,1470.30V1512.90M869.68,1530.60V1572.90M916.42,1566.80V1588.10M963.16,1568.60V1593.50M1009.90,1589.00V1601.70M1103.38,1587.50V1608.10M1150.12,1592.60V1609.70M784.80,1367.80V1470.30M831.54,1327.40V1445.40M878.28,1388.80V1472.80M925.02,1478.90V1526.60M971.76,1519.00V1561.60M1018.50,1533.30V1566.80M1065.24,1512.00V1565.20M1111.98,1508.40V1587.50M1158.72,1526.60V1576.20M794.70,1529.70V1577.40M841.44,1471.90V1568.60M888.18,1570.10V1592.60M934.92,1581.40V1602.70M981.66,1597.50V1620.90M1028.40,1582.90V1610.90M1121.88,1571.60V1602.00M1168.62,1561.60V1587.50" stroke="#666" stroke-width="1.2" fill="none"/>
<path d="M761.96,1450.60h7.478400000000001M761.96,1531.80h7.478400000000001M808.70,1519.60h7.478400000000001M808.70,1575.30h7.478400000000001M855.44,1560.10h7.478400000000001M855.44,1589.60h7.478400000000001M902.18,1577.40h7.478400000000001M902.18,1601.70h7.478400000000001M995.66,1593.50h7.478400000000001M995.66,1616.30h7.478400000000001M1042.40,1591.10h7.478400000000001M1042.40,1607.80h7.478400000000001M1089.14,1599.00h7.478400000000001M1089.14,1614.80h7.478400000000001M772.46,1454.20h7.478400000000001M772.46,1523.00h7.478400000000001M819.20,1470.30h7.478400000000001M819.20,1512.90h7.478400000000001M865.94,1530.60h7.478400000000001M865.94,1572.90h7.478400000000001M912.68,1566.80h7.478400000000001M912.68,1588.10h7.478400000000001M959.42,1568.60h7.478400000000001M959.42,1593.50h7.478400000000001M1006.16,1589.00h7.478400000000001M1006.16,1601.70h7.478400000000001M1099.64,1587.50h7.478400000000001M1099.64,1608.10h7.478400000000001M1146.38,1592.60h7.478400000000001M1146.38,1609.70h7.478400000000001M781.06,1367.80h7.478400000000001M781.06,1470.30h7.478400000000001M827.80,1327.40h7.478400000000001M827.80,1445.40h7.478400000000001M874.54,1388.80h7.478400000000001M874.54,1472.80h7.478400000000001M921.28,1478.90h7.478400000000001M921.28,1526.60h7.478400000000001M968.02,1519.00h7.478400000000001M968.02,1561.60h7.478400000000001M1014.76,1533.30h7.478400000000001M1014.76,1566.80h7.478400000000001M1061.50,1512.00h7.478400000000001M1061.50,1565.20h7.478400000000001M1108.24,1508.40h7.478400000000001M1108.24,1587.50h7.478400000000001M1154.98,1526.60h7.478400000000001M1154.98,1576.20h7.478400000000001M790.96,1529.70h7.478400000000001M790.96,1577.40h7.478400000000001M837.70,1471.90h7.478400000000001M837.70,1568.60h7.478400000000001M884.44,1570.10h7.478400000000001M884.44,1592.60h7.478400000000001M931.18,1581.40h7.478400000000001M931.18,1602.70h7.478400000000001M977.92,1597.50h7.478400000000001M977.92,1620.90h7.478400000000001M1024.66,1582.90h7.478400000000001M1024.66,1610.90h7.478400000000001M1118.14,1571.60h7.478400000000001M1118.14,1602.00h7.478400000000001M1164.88,1561.60h7.478400000000001M1164.88,1587.50h7.478400000000001" stroke="#333" stroke-width="1.3" fill="none"/>
<polyline points="765.70,1491.60 812.44,1547.00 859.18,1573.80 905.92,1589.60 952.66,1612.40 999.40,1603.30 1046.14,1599.60 1092.88,1607.20 1139.62,1619.40" fill="none" stroke="#000" stroke-width="1.9" stroke-linejoin="round"/>
<polyline points="776.20,1488.60 822.94,1491.00 869.68,1551.90 916.42,1577.40 963.16,1581.40 1009.90,1595.70 1056.64,1609.70 1103.38,1598.10 1150.12,1599.60" fill="none" stroke="#000" stroke-width="1.9" stroke-linejoin="round"/>
<polyline points="784.80,1420.80 831.54,1386.70 878.28,1431.40 925.02,1503.80 971.76,1541.20 1018.50,1550.30 1065.24,1538.20 1111.98,1548.50 1158.72,1551.90" fill="none" stroke="#808080" stroke-width="1.9" stroke-linejoin="round"/>
<polyline points="794.70,1553.10 841.44,1521.10 888.18,1581.40 934.92,1591.40 981.66,1608.10 1028.40,1596.00 1075.14,1611.20 1121.88,1586.50 1168.62,1573.80" fill="none" stroke="#000" stroke-width="1.9" stroke-linejoin="round"/>
<rect x="759.27" y="1481.97" width="12.853500000000002" height="19.2625" fill="#000"/>
<rect x="806.01" y="1537.37" width="12.853500000000002" height="19.2625" fill="#000"/>
<rect x="852.75" y="1564.17" width="12.853500000000002" height="19.2625" fill="#000"/>
<rect x="899.49" y="1579.97" width="12.853500000000002" height="19.2625" fill="#000"/>
<rect x="946.23" y="1602.77" width="12.853500000000002" height="19.2625" fill="#000"/>
<rect x="992.97" y="1593.67" width="12.853500000000002" height="19.2625" fill="#000"/>
<rect x="1039.71" y="1589.97" width="12.853500000000002" height="19.2625" fill="#000"/>
<rect x="1086.45" y="1597.57" width="12.853500000000002" height="19.2625" fill="#000"/>
<rect x="1133.19" y="1609.77" width="12.853500000000002" height="19.2625" fill="#000"/>
<rect x="771.08" y="1480.54" width="10.24" height="16.11" fill="#fff" stroke="#000" stroke-width="1.3"/>
<rect x="817.82" y="1482.94" width="10.24" height="16.11" fill="#fff" stroke="#000" stroke-width="1.3"/>
<rect x="864.56" y="1543.84" width="10.24" height="16.11" fill="#fff" stroke="#000" stroke-width="1.3"/>
<rect x="911.30" y="1569.34" width="10.24" height="16.11" fill="#fff" stroke="#000" stroke-width="1.3"/>
<rect x="958.04" y="1573.34" width="10.24" height="16.11" fill="#fff" stroke="#000" stroke-width="1.3"/>
<rect x="1004.78" y="1587.64" width="10.24" height="16.11" fill="#fff" stroke="#000" stroke-width="1.3"/>
<rect x="1051.52" y="1601.64" width="10.24" height="16.11" fill="#fff" stroke="#000" stroke-width="1.3"/>
<rect x="1098.26" y="1590.04" width="10.24" height="16.11" fill="#fff" stroke="#000" stroke-width="1.3"/>
<rect x="1145.00" y="1591.54" width="10.24" height="16.11" fill="#fff" stroke="#000" stroke-width="1.3"/>
<rect x="779.31" y="1412.71" width="10.9839" height="16.1805" fill="#808080"/>
<rect x="826.05" y="1378.61" width="10.9839" height="16.1805" fill="#808080"/>
<rect x="872.79" y="1423.31" width="10.9839" height="16.1805" fill="#808080"/>
<rect x="919.53" y="1495.71" width="10.9839" height="16.1805" fill="#808080"/>
<rect x="966.27" y="1533.11" width="10.9839" height="16.1805" fill="#808080"/>
<rect x="1013.01" y="1542.21" width="10.9839" height="16.1805" fill="#808080"/>
<rect x="1059.75" y="1530.11" width="10.9839" height="16.1805" fill="#808080"/>
<rect x="1106.49" y="1540.41" width="10.9839" height="16.1805" fill="#808080"/>
<rect x="1153.23" y="1543.81" width="10.9839" height="16.1805" fill="#808080"/>
<rect x="788.86" y="1544.55" width="11.69" height="17.11" fill="#8a8a8a"/><polygon points="788.86,1544.55 800.54,1544.55 794.70,1553.10" fill="url(#gt)"/><polygon points="788.86,1561.65 800.54,1561.65 794.70,1553.10" fill="url(#gb)"/><polygon points="788.86,1544.55 788.86,1561.65 794.70,1553.10" fill="url(#gl)"/><polygon points="800.54,1544.55 800.54,1561.65 794.70,1553.10" fill="url(#gr)"/><rect x="789.61" y="1545.30" width="10.19" height="15.61" fill="none" stroke="#1a1a1a" stroke-width="1.5"/>
<rect x="835.60" y="1512.55" width="11.69" height="17.11" fill="#8a8a8a"/><polygon points="835.60,1512.55 847.28,1512.55 841.44,1521.10" fill="url(#gt)"/><polygon points="835.60,1529.65 847.28,1529.65 841.44,1521.10" fill="url(#gb)"/><polygon points="835.60,1512.55 835.60,1529.65 841.44,1521.10" fill="url(#gl)"/><polygon points="847.28,1512.55 847.28,1529.65 841.44,1521.10" fill="url(#gr)"/><rect x="836.35" y="1513.30" width="10.19" height="15.61" fill="none" stroke="#1a1a1a" stroke-width="1.5"/>
<rect x="882.34" y="1572.85" width="11.69" height="17.11" fill="#8a8a8a"/><polygon points="882.34,1572.85 894.02,1572.85 888.18,1581.40" fill="url(#gt)"/><polygon points="882.34,1589.95 894.02,1589.95 888.18,1581.40" fill="url(#gb)"/><polygon points="882.34,1572.85 882.34,1589.95 888.18,1581.40" fill="url(#gl)"/><polygon points="894.02,1572.85 894.02,1589.95 888.18,1581.40" fill="url(#gr)"/><rect x="883.09" y="1573.60" width="10.19" height="15.61" fill="none" stroke="#1a1a1a" stroke-width="1.5"/>
<rect x="929.08" y="1582.85" width="11.69" height="17.11" fill="#8a8a8a"/><polygon points="929.08,1582.85 940.76,1582.85 934.92,1591.40" fill="url(#gt)"/><polygon points="929.08,1599.95 940.76,1599.95 934.92,1591.40" fill="url(#gb)"/><polygon points="929.08,1582.85 929.08,1599.95 934.92,1591.40" fill="url(#gl)"/><polygon points="940.76,1582.85 940.76,1599.95 934.92,1591.40" fill="url(#gr)"/><rect x="929.83" y="1583.60" width="10.19" height="15.61" fill="none" stroke="#1a1a1a" stroke-width="1.5"/>
<rect x="975.82" y="1599.55" width="11.69" height="17.11" fill="#8a8a8a"/><polygon points="975.82,1599.55 987.50,1599.55 981.66,1608.10" fill="url(#gt)"/><polygon points="975.82,1616.65 987.50,1616.65 981.66,1608.10" fill="url(#gb)"/><polygon points="975.82,1599.55 975.82,1616.65 981.66,1608.10" fill="url(#gl)"/><polygon points="987.50,1599.55 987.50,1616.65 981.66,1608.10" fill="url(#gr)"/><rect x="976.57" y="1600.30" width="10.19" height="15.61" fill="none" stroke="#1a1a1a" stroke-width="1.5"/>
<rect x="1022.56" y="1587.45" width="11.69" height="17.11" fill="#8a8a8a"/><polygon points="1022.56,1587.45 1034.24,1587.45 1028.40,1596.00" fill="url(#gt)"/><polygon points="1022.56,1604.55 1034.24,1604.55 1028.40,1596.00" fill="url(#gb)"/><polygon points="1022.56,1587.45 1022.56,1604.55 1028.40,1596.00" fill="url(#gl)"/><polygon points="1034.24,1587.45 1034.24,1604.55 1028.40,1596.00" fill="url(#gr)"/><rect x="1023.31" y="1588.20" width="10.19" height="15.61" fill="none" stroke="#1a1a1a" stroke-width="1.5"/>
<rect x="1069.30" y="1602.65" width="11.69" height="17.11" fill="#8a8a8a"/><polygon points="1069.30,1602.65 1080.98,1602.65 1075.14,1611.20" fill="url(#gt)"/><polygon points="1069.30,1619.75 1080.98,1619.75 1075.14,1611.20" fill="url(#gb)"/><polygon points="1069.30,1602.65 1069.30,1619.75 1075.14,1611.20" fill="url(#gl)"/><polygon points="1080.98,1602.65 1080.98,1619.75 1075.14,1611.20" fill="url(#gr)"/><rect x="1070.05" y="1603.40" width="10.19" height="15.61" fill="none" stroke="#1a1a1a" stroke-width="1.5"/>
<rect x="1116.04" y="1577.95" width="11.69" height="17.11" fill="#8a8a8a"/><polygon points="1116.04,1577.95 1127.72,1577.95 1121.88,1586.50" fill="url(#gt)"/><polygon points="1116.04,1595.05 1127.72,1595.05 1121.88,1586.50" fill="url(#gb)"/><polygon points="1116.04,1577.95 1116.04,1595.05 1121.88,1586.50" fill="url(#gl)"/><polygon points="1127.72,1577.95 1127.72,1595.05 1121.88,1586.50" fill="url(#gr)"/><rect x="1116.79" y="1578.70" width="10.19" height="15.61" fill="none" stroke="#1a1a1a" stroke-width="1.5"/>
<rect x="1162.78" y="1565.25" width="11.69" height="17.11" fill="#8a8a8a"/><polygon points="1162.78,1565.25 1174.46,1565.25 1168.62,1573.80" fill="url(#gt)"/><polygon points="1162.78,1582.35 1174.46,1582.35 1168.62,1573.80" fill="url(#gb)"/><polygon points="1162.78,1565.25 1162.78,1582.35 1168.62,1573.80" fill="url(#gl)"/><polygon points="1174.46,1565.25 1174.46,1582.35 1168.62,1573.80" fill="url(#gr)"/><rect x="1163.53" y="1566.00" width="10.19" height="15.61" fill="none" stroke="#1a1a1a" stroke-width="1.5"/>
<path d="M1241.10,1025.60V1641.60M1235.60,1641.60H1674.40" stroke="#474747" stroke-width="1.3" fill="none"/>
<path d="M1235.60,1487.60H1241.10M1235.60,1333.60H1241.10M1235.60,1179.60H1241.10M1235.60,1025.60H1241.10M1277.00,1641.60v7M1323.84,1641.60v7M1370.68,1641.60v7M1417.52,1641.60v7M1464.36,1641.60v7M1511.20,1641.60v7M1558.04,1641.60v7M1604.88,1641.60v7M1651.72,1641.60v7" stroke="#474747" stroke-width="1.3" fill="none"/>
<text transform="translate(1224.76,1647.04) scale(0.7002,1.0003)" font-size="15.77" fill="#333">0</text>
<text transform="translate(1224.87,1493.04) scale(0.7002,1.0003)" font-size="15.77" fill="#333">1</text>
<text transform="translate(1224.87,1339.12) scale(0.7002,1.0003)" font-size="15.77" fill="#333">2</text>
<text transform="translate(1224.87,1185.04) scale(0.7002,1.0003)" font-size="15.77" fill="#333">3</text>
<text transform="translate(1224.65,1031.12) scale(0.7002,1.0003)" font-size="15.77" fill="#333">4</text>
<text transform="translate(1281.23,1680.78) rotate(-90) scale(1.1528,1.0003)" font-size="12.25" fill="#333">E01</text>
<text transform="translate(1328.07,1680.78) rotate(-90) scale(1.1528,1.0003)" font-size="12.25" fill="#333">E02</text>
<text transform="translate(1374.91,1680.78) rotate(-90) scale(1.1528,1.0003)" font-size="12.25" fill="#333">E03</text>
<text transform="translate(1421.75,1681.06) rotate(-90) scale(1.1528,1.0003)" font-size="12.25" fill="#333">E04</text>
<text transform="translate(1468.59,1680.92) rotate(-90) scale(1.1528,1.0003)" font-size="12.25" fill="#333">E05</text>
<text transform="translate(1515.43,1680.78) rotate(-90) scale(1.1528,1.0003)" font-size="12.25" fill="#333">E06</text>
<text transform="translate(1562.27,1680.78) rotate(-90) scale(1.1528,1.0003)" font-size="12.25" fill="#333">E07</text>
<text transform="translate(1609.11,1680.78) rotate(-90) scale(1.1528,1.0003)" font-size="12.25" fill="#333">E08</text>
<text transform="translate(1655.95,1680.78) rotate(-90) scale(1.1528,1.0003)" font-size="12.25" fill="#333">E09</text>
<path d="M1262.80,1513.60V1554.50M1309.64,1519.60V1584.80M1356.48,1586.30V1608.40M1403.32,1559.00V1594.80M1450.16,1578.70V1607.50M1590.68,1583.90V1607.50M1273.00,1459.00V1519.60M1319.84,1486.30V1539.30M1366.68,1553.00V1589.30M1413.52,1558.10V1583.20M1460.36,1578.70V1607.50M1281.50,1390.90V1500.00M1328.34,1381.20V1456.90M1375.18,1413.60V1514.50M1422.02,1497.50V1539.30M1468.86,1545.40V1589.30M1515.70,1564.20V1592.30M1562.54,1543.00V1587.20M1609.38,1547.80V1596.90M1656.22,1535.40V1583.90M1291.60,1524.80V1566.60M1338.44,1503.60V1577.20M1385.28,1601.40V1623.20M1525.80,1593.80V1621.10M1666.32,1587.20V1617.50" stroke="#666" stroke-width="1.2" fill="none"/>
<path d="M1259.05,1513.60h7.494400000000001M1259.05,1554.50h7.494400000000001M1305.89,1519.60h7.494400000000001M1305.89,1584.80h7.494400000000001M1352.73,1586.30h7.494400000000001M1352.73,1608.40h7.494400000000001M1399.57,1559.00h7.494400000000001M1399.57,1594.80h7.494400000000001M1446.41,1578.70h7.494400000000001M1446.41,1607.50h7.494400000000001M1586.93,1583.90h7.494400000000001M1586.93,1607.50h7.494400000000001M1269.25,1459.00h7.494400000000001M1269.25,1519.60h7.494400000000001M1316.09,1486.30h7.494400000000001M1316.09,1539.30h7.494400000000001M1362.93,1553.00h7.494400000000001M1362.93,1589.30h7.494400000000001M1409.77,1558.10h7.494400000000001M1409.77,1583.20h7.494400000000001M1456.61,1578.70h7.494400000000001M1456.61,1607.50h7.494400000000001M1277.75,1390.90h7.494400000000001M1277.75,1500.00h7.494400000000001M1324.59,1381.20h7.494400000000001M1324.59,1456.90h7.494400000000001M1371.43,1413.60h7.494400000000001M1371.43,1514.50h7.494400000000001M1418.27,1497.50h7.494400000000001M1418.27,1539.30h7.494400000000001M1465.11,1545.40h7.494400000000001M1465.11,1589.30h7.494400000000001M1511.95,1564.20h7.494400000000001M1511.95,1592.30h7.494400000000001M1558.79,1543.00h7.494400000000001M1558.79,1587.20h7.494400000000001M1605.63,1547.80h7.494400000000001M1605.63,1596.90h7.494400000000001M1652.47,1535.40h7.494400000000001M1652.47,1583.90h7.494400000000001M1287.85,1524.80h7.494400000000001M1287.85,1566.60h7.494400000000001M1334.69,1503.60h7.494400000000001M1334.69,1577.20h7.494400000000001M1381.53,1601.40h7.494400000000001M1381.53,1623.20h7.494400000000001M1522.05,1593.80h7.494400000000001M1522.05,1621.10h7.494400000000001M1662.57,1587.20h7.494400000000001M1662.57,1617.50h7.494400000000001" stroke="#333" stroke-width="1.3" fill="none"/>
<polyline points="1262.80,1533.90 1309.64,1552.30 1356.48,1597.80 1403.32,1577.20 1450.16,1593.80 1497.00,1619.00 1543.84,1605.10 1590.68,1596.00 1637.52,1617.50" fill="none" stroke="#000" stroke-width="1.9" stroke-linejoin="round"/>
<polyline points="1273.00,1490.20 1319.84,1512.10 1366.68,1571.10 1413.52,1570.50 1460.36,1593.80 1507.20,1604.50 1554.04,1605.10 1600.88,1610.50 1647.72,1615.10" fill="none" stroke="#000" stroke-width="1.9" stroke-linejoin="round"/>
<polyline points="1281.50,1445.40 1328.34,1420.30 1375.18,1464.50 1422.02,1518.70 1468.86,1567.50 1515.70,1577.20 1562.54,1565.70 1609.38,1572.00 1656.22,1560.50" fill="none" stroke="#808080" stroke-width="1.9" stroke-linejoin="round"/>
<polyline points="1291.60,1546.00 1338.44,1540.80 1385.28,1612.60 1432.12,1592.90 1478.96,1607.50 1525.80,1607.50 1572.64,1618.10 1619.48,1606.00 1666.32,1602.30" fill="none" stroke="#000" stroke-width="1.9" stroke-linejoin="round"/>
<rect x="1256.36" y="1524.28" width="12.881000000000002" height="19.25" fill="#000"/>
<rect x="1303.20" y="1542.67" width="12.881000000000002" height="19.25" fill="#000"/>
<rect x="1350.04" y="1588.17" width="12.881000000000002" height="19.25" fill="#000"/>
<rect x="1396.88" y="1567.58" width="12.881000000000002" height="19.25" fill="#000"/>
<rect x="1443.72" y="1584.17" width="12.881000000000002" height="19.25" fill="#000"/>
<rect x="1490.56" y="1609.38" width="12.881000000000002" height="19.25" fill="#000"/>
<rect x="1537.40" y="1595.47" width="12.881000000000002" height="19.25" fill="#000"/>
<rect x="1584.24" y="1586.38" width="12.881000000000002" height="19.25" fill="#000"/>
<rect x="1631.08" y="1607.88" width="12.881000000000002" height="19.25" fill="#000"/>
<rect x="1267.87" y="1482.15" width="10.27" height="16.10" fill="#fff" stroke="#000" stroke-width="1.3"/>
<rect x="1314.71" y="1504.05" width="10.27" height="16.10" fill="#fff" stroke="#000" stroke-width="1.3"/>
<rect x="1361.55" y="1563.05" width="10.27" height="16.10" fill="#fff" stroke="#000" stroke-width="1.3"/>
<rect x="1408.39" y="1562.45" width="10.27" height="16.10" fill="#fff" stroke="#000" stroke-width="1.3"/>
<rect x="1455.23" y="1585.75" width="10.27" height="16.10" fill="#fff" stroke="#000" stroke-width="1.3"/>
<rect x="1502.07" y="1596.45" width="10.27" height="16.10" fill="#fff" stroke="#000" stroke-width="1.3"/>
<rect x="1548.91" y="1597.05" width="10.27" height="16.10" fill="#fff" stroke="#000" stroke-width="1.3"/>
<rect x="1595.75" y="1602.45" width="10.27" height="16.10" fill="#fff" stroke="#000" stroke-width="1.3"/>
<rect x="1642.59" y="1607.05" width="10.27" height="16.10" fill="#fff" stroke="#000" stroke-width="1.3"/>
<rect x="1276.00" y="1437.32" width="11.0074" height="16.169999999999998" fill="#808080"/>
<rect x="1322.84" y="1412.21" width="11.0074" height="16.169999999999998" fill="#808080"/>
<rect x="1369.68" y="1456.41" width="11.0074" height="16.169999999999998" fill="#808080"/>
<rect x="1416.52" y="1510.62" width="11.0074" height="16.169999999999998" fill="#808080"/>
<rect x="1463.36" y="1559.41" width="11.0074" height="16.169999999999998" fill="#808080"/>
<rect x="1510.20" y="1569.12" width="11.0074" height="16.169999999999998" fill="#808080"/>
<rect x="1557.04" y="1557.62" width="11.0074" height="16.169999999999998" fill="#808080"/>
<rect x="1603.88" y="1563.91" width="11.0074" height="16.169999999999998" fill="#808080"/>
<rect x="1650.72" y="1552.41" width="11.0074" height="16.169999999999998" fill="#808080"/>
<rect x="1285.74" y="1537.45" width="11.71" height="17.09" fill="#8a8a8a"/><polygon points="1285.74,1537.45 1297.45,1537.45 1291.60,1546.00" fill="url(#gt)"/><polygon points="1285.74,1554.55 1297.45,1554.55 1291.60,1546.00" fill="url(#gb)"/><polygon points="1285.74,1537.45 1285.74,1554.55 1291.60,1546.00" fill="url(#gl)"/><polygon points="1297.45,1537.45 1297.45,1554.55 1291.60,1546.00" fill="url(#gr)"/><rect x="1286.49" y="1538.20" width="10.21" height="15.59" fill="none" stroke="#1a1a1a" stroke-width="1.5"/>
<rect x="1332.58" y="1532.25" width="11.71" height="17.09" fill="#8a8a8a"/><polygon points="1332.58,1532.25 1344.29,1532.25 1338.44,1540.80" fill="url(#gt)"/><polygon points="1332.58,1549.35 1344.29,1549.35 1338.44,1540.80" fill="url(#gb)"/><polygon points="1332.58,1532.25 1332.58,1549.35 1338.44,1540.80" fill="url(#gl)"/><polygon points="1344.29,1532.25 1344.29,1549.35 1338.44,1540.80" fill="url(#gr)"/><rect x="1333.33" y="1533.00" width="10.21" height="15.59" fill="none" stroke="#1a1a1a" stroke-width="1.5"/>
<rect x="1379.42" y="1604.05" width="11.71" height="17.09" fill="#8a8a8a"/><polygon points="1379.42,1604.05 1391.13,1604.05 1385.28,1612.60" fill="url(#gt)"/><polygon points="1379.42,1621.15 1391.13,1621.15 1385.28,1612.60" fill="url(#gb)"/><polygon points="1379.42,1604.05 1379.42,1621.15 1385.28,1612.60" fill="url(#gl)"/><polygon points="1391.13,1604.05 1391.13,1621.15 1385.28,1612.60" fill="url(#gr)"/><rect x="1380.17" y="1604.80" width="10.21" height="15.59" fill="none" stroke="#1a1a1a" stroke-width="1.5"/>
<rect x="1426.26" y="1584.35" width="11.71" height="17.09" fill="#8a8a8a"/><polygon points="1426.26,1584.35 1437.97,1584.35 1432.12,1592.90" fill="url(#gt)"/><polygon points="1426.26,1601.45 1437.97,1601.45 1432.12,1592.90" fill="url(#gb)"/><polygon points="1426.26,1584.35 1426.26,1601.45 1432.12,1592.90" fill="url(#gl)"/><polygon points="1437.97,1584.35 1437.97,1601.45 1432.12,1592.90" fill="url(#gr)"/><rect x="1427.01" y="1585.10" width="10.21" height="15.59" fill="none" stroke="#1a1a1a" stroke-width="1.5"/>
<rect x="1473.11" y="1598.95" width="11.71" height="17.09" fill="#8a8a8a"/><polygon points="1473.11,1598.95 1484.82,1598.95 1478.96,1607.50" fill="url(#gt)"/><polygon points="1473.11,1616.05 1484.82,1616.05 1478.96,1607.50" fill="url(#gb)"/><polygon points="1473.11,1598.95 1473.11,1616.05 1478.96,1607.50" fill="url(#gl)"/><polygon points="1484.82,1598.95 1484.82,1616.05 1478.96,1607.50" fill="url(#gr)"/><rect x="1473.86" y="1599.70" width="10.21" height="15.59" fill="none" stroke="#1a1a1a" stroke-width="1.5"/>
<rect x="1519.94" y="1598.95" width="11.71" height="17.09" fill="#8a8a8a"/><polygon points="1519.94,1598.95 1531.65,1598.95 1525.80,1607.50" fill="url(#gt)"/><polygon points="1519.94,1616.05 1531.65,1616.05 1525.80,1607.50" fill="url(#gb)"/><polygon points="1519.94,1598.95 1519.94,1616.05 1525.80,1607.50" fill="url(#gl)"/><polygon points="1531.65,1598.95 1531.65,1616.05 1525.80,1607.50" fill="url(#gr)"/><rect x="1520.69" y="1599.70" width="10.21" height="15.59" fill="none" stroke="#1a1a1a" stroke-width="1.5"/>
<rect x="1566.78" y="1609.55" width="11.71" height="17.09" fill="#8a8a8a"/><polygon points="1566.78,1609.55 1578.49,1609.55 1572.64,1618.10" fill="url(#gt)"/><polygon points="1566.78,1626.65 1578.49,1626.65 1572.64,1618.10" fill="url(#gb)"/><polygon points="1566.78,1609.55 1566.78,1626.65 1572.64,1618.10" fill="url(#gl)"/><polygon points="1578.49,1609.55 1578.49,1626.65 1572.64,1618.10" fill="url(#gr)"/><rect x="1567.53" y="1610.30" width="10.21" height="15.59" fill="none" stroke="#1a1a1a" stroke-width="1.5"/>
<rect x="1613.62" y="1597.45" width="11.71" height="17.09" fill="#8a8a8a"/><polygon points="1613.62,1597.45 1625.34,1597.45 1619.48,1606.00" fill="url(#gt)"/><polygon points="1613.62,1614.55 1625.34,1614.55 1619.48,1606.00" fill="url(#gb)"/><polygon points="1613.62,1597.45 1613.62,1614.55 1619.48,1606.00" fill="url(#gl)"/><polygon points="1625.34,1597.45 1625.34,1614.55 1619.48,1606.00" fill="url(#gr)"/><rect x="1614.38" y="1598.20" width="10.21" height="15.59" fill="none" stroke="#1a1a1a" stroke-width="1.5"/>
<rect x="1660.46" y="1593.75" width="11.71" height="17.09" fill="#8a8a8a"/><polygon points="1660.46,1593.75 1672.17,1593.75 1666.32,1602.30" fill="url(#gt)"/><polygon points="1660.46,1610.85 1672.17,1610.85 1666.32,1602.30" fill="url(#gb)"/><polygon points="1660.46,1593.75 1660.46,1610.85 1666.32,1602.30" fill="url(#gl)"/><polygon points="1672.17,1593.75 1672.17,1610.85 1666.32,1602.30" fill="url(#gr)"/><rect x="1661.21" y="1594.50" width="10.21" height="15.59" fill="none" stroke="#1a1a1a" stroke-width="1.5"/>
<path d="M124.70,1803.20V2374.40M119.20,2374.40H610.00" stroke="#474747" stroke-width="1.3" fill="none"/>
<path d="M119.20,2231.60H124.70M119.20,2088.80H124.70M119.20,1946.00H124.70M119.20,1803.20H124.70M165.10,2374.40v7M217.43,2374.40v7M269.76,2374.40v7M322.09,2374.40v7M374.42,2374.40v7M426.75,2374.40v7M479.08,2374.40v7M531.41,2374.40v7M583.74,2374.40v7" stroke="#474747" stroke-width="1.3" fill="none"/>
<text transform="translate(106.35,2379.75) scale(0.7263,1.0002)" font-size="15.49" fill="#333">0</text>
<text transform="translate(106.46,2236.95) scale(0.7263,1.0002)" font-size="15.49" fill="#333">1</text>
<text transform="translate(106.46,2094.22) scale(0.7263,1.0002)" font-size="15.49" fill="#333">2</text>
<text transform="translate(106.46,1951.35) scale(0.7263,1.0002)" font-size="15.49" fill="#333">3</text>
<text transform="translate(106.24,1808.62) scale(0.7263,1.0002)" font-size="15.49" fill="#333">4</text>
<text transform="translate(169.67,2410.71) rotate(-90) scale(0.9979,1.0000)" font-size="13.24" fill="#333">E01</text>
<text transform="translate(222.00,2410.71) rotate(-90) scale(0.9979,1.0000)" font-size="13.24" fill="#333">E02</text>
<text transform="translate(274.33,2410.71) rotate(-90) scale(0.9979,1.0000)" font-size="13.24" fill="#333">E03</text>
<text transform="translate(326.66,2410.97) rotate(-90) scale(0.9979,1.0000)" font-size="13.24" fill="#333">E04</text>
<text transform="translate(378.99,2410.84) rotate(-90) scale(0.9979,1.0000)" font-size="13.24" fill="#333">E05</text>
<text transform="translate(431.32,2410.71) rotate(-90) scale(0.9979,1.0000)" font-size="13.24" fill="#333">E06</text>
<text transform="translate(483.65,2410.71) rotate(-90) scale(0.9979,1.0000)" font-size="13.24" fill="#333">E07</text>
<text transform="translate(535.98,2410.71) rotate(-90) scale(0.9979,1.0000)" font-size="13.24" fill="#333">E08</text>
<text transform="translate(588.31,2410.71) rotate(-90) scale(0.9979,1.0000)" font-size="13.24" fill="#333">E09</text>
<rect x="126.2" y="2358" width="299.30" height="14.00" fill="#000"/>
<path d="M149.10,2110.60V2179.80M201.43,1982.40V2099.00M253.76,2159.30V2211.10M306.09,2090.10V2185.00M358.42,2121.40V2226.90M410.75,2186.70V2247.30M463.08,2147.10V2199.50M515.41,2101.70V2179.10M567.74,2089.20V2174.20M159.90,2023.60V2059.80M212.23,2063.80V2099.00M264.56,2066.10V2116.50M316.89,2101.70V2142.20M369.22,2101.70V2138.90M421.55,2078.00V2128.70M473.88,2092.50V2144.50M526.21,2096.70V2129.70M578.54,2104.00V2144.50M169.90,2095.70V2140.20M222.23,2143.90V2186.70M274.56,2186.70V2244.00M326.89,2163.30V2250.00M379.22,2167.60V2241.70M431.55,2182.40V2236.10M483.88,2189.70V2255.60M536.21,2157.70V2215.40M588.54,2124.70V2207.10M180.30,2066.10V2164.30M232.63,2108.30V2182.40M284.96,2143.50V2206.10M337.29,2193.00V2235.10M389.62,2173.50V2235.10M441.95,2135.60V2226.90M494.28,2166.60V2213.70M546.61,2040.70V2101.00M598.94,2114.90V2163.30" stroke="#666" stroke-width="1.2" fill="none"/>
<path d="M144.91,2110.60h8.3728M144.91,2179.80h8.3728M197.24,1982.40h8.3728M197.24,2099.00h8.3728M249.57,2159.30h8.3728M249.57,2211.10h8.3728M301.90,2090.10h8.3728M301.90,2185.00h8.3728M354.23,2121.40h8.3728M354.23,2226.90h8.3728M406.56,2186.70h8.3728M406.56,2247.30h8.3728M458.89,2147.10h8.3728M458.89,2199.50h8.3728M511.22,2101.70h8.3728M511.22,2179.10h8.3728M563.55,2089.20h8.3728M563.55,2174.20h8.3728M155.71,2023.60h8.3728M155.71,2059.80h8.3728M208.04,2063.80h8.3728M208.04,2099.00h8.3728M260.37,2066.10h8.3728M260.37,2116.50h8.3728M312.70,2101.70h8.3728M312.70,2142.20h8.3728M365.03,2101.70h8.3728M365.03,2138.90h8.3728M417.36,2078.00h8.3728M417.36,2128.70h8.3728M469.69,2092.50h8.3728M469.69,2144.50h8.3728M522.02,2096.70h8.3728M522.02,2129.70h8.3728M574.35,2104.00h8.3728M574.35,2144.50h8.3728M165.71,2095.70h8.3728M165.71,2140.20h8.3728M218.04,2143.90h8.3728M218.04,2186.70h8.3728M270.37,2186.70h8.3728M270.37,2244.00h8.3728M322.70,2163.30h8.3728M322.70,2250.00h8.3728M375.03,2167.60h8.3728M375.03,2241.70h8.3728M427.36,2182.40h8.3728M427.36,2236.10h8.3728M479.69,2189.70h8.3728M479.69,2255.60h8.3728M532.02,2157.70h8.3728M532.02,2215.40h8.3728M584.35,2124.70h8.3728M584.35,2207.10h8.3728M176.11,2066.10h8.3728M176.11,2164.30h8.3728M228.44,2108.30h8.3728M228.44,2182.40h8.3728M280.77,2143.50h8.3728M280.77,2206.10h8.3728M333.10,2193.00h8.3728M333.10,2235.10h8.3728M385.43,2173.50h8.3728M385.43,2235.10h8.3728M437.76,2135.60h8.3728M437.76,2226.90h8.3728M490.09,2166.60h8.3728M490.09,2213.70h8.3728M542.42,2040.70h8.3728M542.42,2101.00h8.3728M594.75,2114.90h8.3728M594.75,2163.30h8.3728" stroke="#333" stroke-width="1.3" fill="none"/>
<polyline points="149.10,2145.20 201.43,2040.70 253.76,2185.70 306.09,2138.60 358.42,2173.50 410.75,2217.00 463.08,2173.50 515.41,2140.60 567.74,2133.00" fill="none" stroke="#000" stroke-width="1.9" stroke-linejoin="round"/>
<polyline points="159.90,2041.70 212.23,2081.30 264.56,2091.10 316.89,2121.40 369.22,2119.80 421.55,2104.00 473.88,2118.20 526.21,2113.20 578.54,2123.80" fill="none" stroke="#000" stroke-width="1.9" stroke-linejoin="round"/>
<polyline points="169.90,2119.10 222.23,2165.90 274.56,2215.40 326.89,2206.50 379.22,2205.50 431.55,2208.80 483.88,2222.60 536.21,2187.30 588.54,2165.90" fill="none" stroke="#808080" stroke-width="1.9" stroke-linejoin="round"/>
<polyline points="180.30,2114.90 232.63,2144.50 284.96,2175.80 337.29,2213.00 389.62,2203.80 441.95,2181.40 494.28,2189.00 546.61,2071.00 598.94,2139.60" fill="none" stroke="#000" stroke-width="1.9" stroke-linejoin="round"/>
<rect x="141.90" y="2136.27" width="14.39075" height="17.85" fill="#000"/>
<rect x="194.23" y="2031.78" width="14.39075" height="17.85" fill="#000"/>
<rect x="246.56" y="2176.77" width="14.39075" height="17.85" fill="#000"/>
<rect x="298.89" y="2129.67" width="14.39075" height="17.85" fill="#000"/>
<rect x="351.22" y="2164.57" width="14.39075" height="17.85" fill="#000"/>
<rect x="403.55" y="2208.07" width="14.39075" height="17.85" fill="#000"/>
<rect x="455.88" y="2164.57" width="14.39075" height="17.85" fill="#000"/>
<rect x="508.21" y="2131.67" width="14.39075" height="17.85" fill="#000"/>
<rect x="560.54" y="2124.07" width="14.39075" height="17.85" fill="#000"/>
<rect x="154.09" y="2034.28" width="11.63" height="14.84" fill="#fff" stroke="#000" stroke-width="1.3"/>
<rect x="206.42" y="2073.88" width="11.63" height="14.84" fill="#fff" stroke="#000" stroke-width="1.3"/>
<rect x="258.75" y="2083.68" width="11.63" height="14.84" fill="#fff" stroke="#000" stroke-width="1.3"/>
<rect x="311.08" y="2113.98" width="11.63" height="14.84" fill="#fff" stroke="#000" stroke-width="1.3"/>
<rect x="363.41" y="2112.38" width="11.63" height="14.84" fill="#fff" stroke="#000" stroke-width="1.3"/>
<rect x="415.74" y="2096.58" width="11.63" height="14.84" fill="#fff" stroke="#000" stroke-width="1.3"/>
<rect x="468.07" y="2110.78" width="11.63" height="14.84" fill="#fff" stroke="#000" stroke-width="1.3"/>
<rect x="520.40" y="2105.78" width="11.63" height="14.84" fill="#fff" stroke="#000" stroke-width="1.3"/>
<rect x="572.73" y="2116.38" width="11.63" height="14.84" fill="#fff" stroke="#000" stroke-width="1.3"/>
<rect x="163.75" y="2111.60" width="12.29755" height="14.994" fill="#808080"/>
<rect x="216.08" y="2158.40" width="12.29755" height="14.994" fill="#808080"/>
<rect x="268.41" y="2207.90" width="12.29755" height="14.994" fill="#808080"/>
<rect x="320.74" y="2199.00" width="12.29755" height="14.994" fill="#808080"/>
<rect x="373.07" y="2198.00" width="12.29755" height="14.994" fill="#808080"/>
<rect x="425.40" y="2201.30" width="12.29755" height="14.994" fill="#808080"/>
<rect x="477.73" y="2215.10" width="12.29755" height="14.994" fill="#808080"/>
<rect x="530.06" y="2179.80" width="12.29755" height="14.994" fill="#808080"/>
<rect x="582.39" y="2158.40" width="12.29755" height="14.994" fill="#808080"/>
<rect x="173.76" y="2106.97" width="13.08" height="15.85" fill="#8a8a8a"/><polygon points="173.76,2106.97 186.84,2106.97 180.30,2114.90" fill="url(#gt)"/><polygon points="173.76,2122.83 186.84,2122.83 180.30,2114.90" fill="url(#gb)"/><polygon points="173.76,2106.97 173.76,2122.83 180.30,2114.90" fill="url(#gl)"/><polygon points="186.84,2106.97 186.84,2122.83 180.30,2114.90" fill="url(#gr)"/><rect x="174.51" y="2107.72" width="11.58" height="14.35" fill="none" stroke="#1a1a1a" stroke-width="1.5"/>
<rect x="226.09" y="2136.57" width="13.08" height="15.85" fill="#8a8a8a"/><polygon points="226.09,2136.57 239.17,2136.57 232.63,2144.50" fill="url(#gt)"/><polygon points="226.09,2152.43 239.17,2152.43 232.63,2144.50" fill="url(#gb)"/><polygon points="226.09,2136.57 226.09,2152.43 232.63,2144.50" fill="url(#gl)"/><polygon points="239.17,2136.57 239.17,2152.43 232.63,2144.50" fill="url(#gr)"/><rect x="226.84" y="2137.32" width="11.58" height="14.35" fill="none" stroke="#1a1a1a" stroke-width="1.5"/>
<rect x="278.42" y="2167.87" width="13.08" height="15.85" fill="#8a8a8a"/><polygon points="278.42,2167.87 291.50,2167.87 284.96,2175.80" fill="url(#gt)"/><polygon points="278.42,2183.73 291.50,2183.73 284.96,2175.80" fill="url(#gb)"/><polygon points="278.42,2167.87 278.42,2183.73 284.96,2175.80" fill="url(#gl)"/><polygon points="291.50,2167.87 291.50,2183.73 284.96,2175.80" fill="url(#gr)"/><rect x="279.17" y="2168.62" width="11.58" height="14.35" fill="none" stroke="#1a1a1a" stroke-width="1.5"/>
<rect x="330.75" y="2205.07" width="13.08" height="15.85" fill="#8a8a8a"/><polygon points="330.75,2205.07 343.83,2205.07 337.29,2213.00" fill="url(#gt)"/><polygon points="330.75,2220.93 343.83,2220.93 337.29,2213.00" fill="url(#gb)"/><polygon points="330.75,2205.07 330.75,2220.93 337.29,2213.00" fill="url(#gl)"/><polygon points="343.83,2205.07 343.83,2220.93 337.29,2213.00" fill="url(#gr)"/><rect x="331.50" y="2205.82" width="11.58" height="14.35" fill="none" stroke="#1a1a1a" stroke-width="1.5"/>
<rect x="383.08" y="2195.87" width="13.08" height="15.85" fill="#8a8a8a"/><polygon points="383.08,2195.87 396.16,2195.87 389.62,2203.80" fill="url(#gt)"/><polygon points="383.08,2211.73 396.16,2211.73 389.62,2203.80" fill="url(#gb)"/><polygon points="383.08,2195.87 383.08,2211.73 389.62,2203.80" fill="url(#gl)"/><polygon points="396.16,2195.87 396.16,2211.73 389.62,2203.80" fill="url(#gr)"/><rect x="383.83" y="2196.62" width="11.58" height="14.35" fill="none" stroke="#1a1a1a" stroke-width="1.5"/>
<rect x="435.41" y="2173.47" width="13.08" height="15.85" fill="#8a8a8a"/><polygon points="435.41,2173.47 448.49,2173.47 441.95,2181.40" fill="url(#gt)"/><polygon points="435.41,2189.33 448.49,2189.33 441.95,2181.40" fill="url(#gb)"/><polygon points="435.41,2173.47 435.41,2189.33 441.95,2181.40" fill="url(#gl)"/><polygon points="448.49,2173.47 448.49,2189.33 441.95,2181.40" fill="url(#gr)"/><rect x="436.16" y="2174.22" width="11.58" height="14.35" fill="none" stroke="#1a1a1a" stroke-width="1.5"/>
<rect x="487.74" y="2181.07" width="13.08" height="15.85" fill="#8a8a8a"/><polygon points="487.74,2181.07 500.82,2181.07 494.28,2189.00" fill="url(#gt)"/><polygon points="487.74,2196.93 500.82,2196.93 494.28,2189.00" fill="url(#gb)"/><polygon points="487.74,2181.07 487.74,2196.93 494.28,2189.00" fill="url(#gl)"/><polygon points="500.82,2181.07 500.82,2196.93 494.28,2189.00" fill="url(#gr)"/><rect x="488.49" y="2181.82" width="11.58" height="14.35" fill="none" stroke="#1a1a1a" stroke-width="1.5"/>
<rect x="540.07" y="2063.07" width="13.08" height="15.85" fill="#8a8a8a"/><polygon points="540.07,2063.07 553.15,2063.07 546.61,2071.00" fill="url(#gt)"/><polygon points="540.07,2078.93 553.15,2078.93 546.61,2071.00" fill="url(#gb)"/><polygon points="540.07,2063.07 540.07,2078.93 546.61,2071.00" fill="url(#gl)"/><polygon points="553.15,2063.07 553.15,2078.93 546.61,2071.00" fill="url(#gr)"/><rect x="540.82" y="2063.82" width="11.58" height="14.35" fill="none" stroke="#1a1a1a" stroke-width="1.5"/>
<rect x="592.40" y="2131.67" width="13.08" height="15.85" fill="#8a8a8a"/><polygon points="592.40,2131.67 605.48,2131.67 598.94,2139.60" fill="url(#gt)"/><polygon points="592.40,2147.53 605.48,2147.53 598.94,2139.60" fill="url(#gb)"/><polygon points="592.40,2131.67 592.40,2147.53 598.94,2139.60" fill="url(#gl)"/><polygon points="605.48,2131.67 605.48,2147.53 598.94,2139.60" fill="url(#gr)"/><rect x="593.15" y="2132.42" width="11.58" height="14.35" fill="none" stroke="#1a1a1a" stroke-width="1.5"/>
<path d="M749.70,1802.80V2372.00M744.20,2372.00H1188.70" stroke="#474747" stroke-width="1.3" fill="none"/>
<path d="M744.20,2229.70H749.70M744.20,2087.40H749.70M744.20,1945.10H749.70M744.20,1802.80H749.70M786.00,2372.00v7M833.44,2372.00v7M880.88,2372.00v7M928.32,2372.00v7M975.76,2372.00v7M1023.20,2372.00v7M1070.64,2372.00v7M1118.08,2372.00v7M1165.52,2372.00v7" stroke="#474747" stroke-width="1.3" fill="none"/>
<text transform="translate(733.56,2377.44) scale(0.7002,1.0003)" font-size="15.77" fill="#333">0</text>
<text transform="translate(733.67,2235.14) scale(0.7002,1.0003)" font-size="15.77" fill="#333">1</text>
<text transform="translate(733.67,2092.92) scale(0.7002,1.0003)" font-size="15.77" fill="#333">2</text>
<text transform="translate(733.67,1950.54) scale(0.7002,1.0003)" font-size="15.77" fill="#333">3</text>
<text transform="translate(733.45,1808.32) scale(0.7002,1.0003)" font-size="15.77" fill="#333">4</text>
<text transform="translate(790.32,2408.72) rotate(-90) scale(1.0633,0.9996)" font-size="12.54" fill="#333">E01</text>
<text transform="translate(837.76,2408.72) rotate(-90) scale(1.0633,0.9996)" font-size="12.54" fill="#333">E02</text>
<text transform="translate(885.20,2408.72) rotate(-90) scale(1.0633,0.9996)" font-size="12.54" fill="#333">E03</text>
<text transform="translate(932.64,2408.98) rotate(-90) scale(1.0633,0.9996)" font-size="12.54" fill="#333">E04</text>
<text transform="translate(980.08,2408.85) rotate(-90) scale(1.0633,0.9996)" font-size="12.54" fill="#333">E05</text>
<text transform="translate(1027.52,2408.72) rotate(-90) scale(1.0633,0.9996)" font-size="12.54" fill="#333">E06</text>
<text transform="translate(1074.96,2408.72) rotate(-90) scale(1.0633,0.9996)" font-size="12.54" fill="#333">E07</text>
<text transform="translate(1122.40,2408.72) rotate(-90) scale(1.0633,0.9996)" font-size="12.54" fill="#333">E08</text>
<text transform="translate(1169.84,2408.72) rotate(-90) scale(1.0633,0.9996)" font-size="12.54" fill="#333">E09</text>
<rect x="753.8" y="2356.4" width="262.80" height="12.50" fill="#000"/>
<path d="M771.70,2256.00V2297.40M819.14,2199.40V2277.50M866.58,2289.40V2327.20M914.02,2273.00V2319.20M961.46,2306.60V2337.00M1008.90,2311.10V2343.00M1056.34,2298.90V2343.00M1103.78,2295.90V2337.60M1151.22,2281.90V2328.10M782.10,2193.20V2234.30M829.54,2235.80V2269.40M876.98,2285.50V2308.70M924.42,2261.70V2292.30M971.86,2277.50V2311.70M1019.30,2268.50V2309.30M1066.74,2264.00V2299.80M1114.18,2303.70V2324.50M1161.62,2286.40V2313.20M790.50,2280.40V2309.30M837.94,2298.90V2322.70M885.38,2315.30V2350.40M932.82,2335.50V2356.40M980.26,2332.60V2350.40M1027.70,2332.60V2352.50M1075.14,2330.50V2353.40M1122.58,2324.20V2340.60M800.60,2255.10V2312.60M848.04,2264.90V2302.20M895.48,2322.10V2343.60M942.92,2334.00V2345.10M990.36,2298.90V2350.40M1037.80,2323.60V2351.90M1085.24,2295.30V2328.70M1132.68,2235.20V2301.30M1180.12,2274.50V2313.80" stroke="#666" stroke-width="1.2" fill="none"/>
<path d="M767.90,2256.00h7.5904M767.90,2297.40h7.5904M815.34,2199.40h7.5904M815.34,2277.50h7.5904M862.78,2289.40h7.5904M862.78,2327.20h7.5904M910.22,2273.00h7.5904M910.22,2319.20h7.5904M957.66,2306.60h7.5904M957.66,2337.00h7.5904M1005.10,2311.10h7.5904M1005.10,2343.00h7.5904M1052.54,2298.90h7.5904M1052.54,2343.00h7.5904M1099.98,2295.90h7.5904M1099.98,2337.60h7.5904M1147.42,2281.90h7.5904M1147.42,2328.10h7.5904M778.30,2193.20h7.5904M778.30,2234.30h7.5904M825.74,2235.80h7.5904M825.74,2269.40h7.5904M873.18,2285.50h7.5904M873.18,2308.70h7.5904M920.62,2261.70h7.5904M920.62,2292.30h7.5904M968.06,2277.50h7.5904M968.06,2311.70h7.5904M1015.50,2268.50h7.5904M1015.50,2309.30h7.5904M1062.94,2264.00h7.5904M1062.94,2299.80h7.5904M1110.38,2303.70h7.5904M1110.38,2324.50h7.5904M1157.82,2286.40h7.5904M1157.82,2313.20h7.5904M786.70,2280.40h7.5904M786.70,2309.30h7.5904M834.14,2298.90h7.5904M834.14,2322.70h7.5904M881.58,2315.30h7.5904M881.58,2350.40h7.5904M929.02,2335.50h7.5904M929.02,2356.40h7.5904M976.46,2332.60h7.5904M976.46,2350.40h7.5904M1023.90,2332.60h7.5904M1023.90,2352.50h7.5904M1071.34,2330.50h7.5904M1071.34,2353.40h7.5904M1118.78,2324.20h7.5904M1118.78,2340.60h7.5904M796.80,2255.10h7.5904M796.80,2312.60h7.5904M844.24,2264.90h7.5904M844.24,2302.20h7.5904M891.68,2322.10h7.5904M891.68,2343.60h7.5904M939.12,2334.00h7.5904M939.12,2345.10h7.5904M986.56,2298.90h7.5904M986.56,2350.40h7.5904M1034.00,2323.60h7.5904M1034.00,2351.90h7.5904M1081.44,2295.30h7.5904M1081.44,2328.70h7.5904M1128.88,2235.20h7.5904M1128.88,2301.30h7.5904M1176.32,2274.50h7.5904M1176.32,2313.80h7.5904" stroke="#333" stroke-width="1.3" fill="none"/>
<polyline points="771.70,2276.60 819.14,2238.70 866.58,2310.20 914.02,2297.40 961.46,2322.10 1008.90,2327.20 1056.34,2320.70 1103.78,2317.70 1151.22,2304.90" fill="none" stroke="#000" stroke-width="1.9" stroke-linejoin="round"/>
<polyline points="782.10,2213.40 829.54,2252.10 876.98,2296.80 924.42,2277.50 971.86,2294.40 1019.30,2288.80 1066.74,2281.90 1114.18,2314.10 1161.62,2299.80" fill="none" stroke="#000" stroke-width="1.9" stroke-linejoin="round"/>
<polyline points="790.50,2295.30 837.94,2310.20 885.38,2333.20 932.82,2346.00 980.26,2341.50 1027.70,2342.40 1075.14,2341.50 1122.58,2332.00 1170.02,2324.20" fill="none" stroke="#808080" stroke-width="1.9" stroke-linejoin="round"/>
<polyline points="800.60,2284.00 848.04,2284.00 895.48,2333.20 942.92,2339.10 990.36,2325.10 1037.80,2337.60 1085.24,2311.70 1132.68,2268.50 1180.12,2294.40" fill="none" stroke="#000" stroke-width="1.9" stroke-linejoin="round"/>
<rect x="765.18" y="2267.71" width="13.046000000000001" height="17.7875" fill="#000"/>
<rect x="812.62" y="2229.81" width="13.046000000000001" height="17.7875" fill="#000"/>
<rect x="860.06" y="2301.31" width="13.046000000000001" height="17.7875" fill="#000"/>
<rect x="907.50" y="2288.51" width="13.046000000000001" height="17.7875" fill="#000"/>
<rect x="954.94" y="2313.21" width="13.046000000000001" height="17.7875" fill="#000"/>
<rect x="1002.38" y="2318.31" width="13.046000000000001" height="17.7875" fill="#000"/>
<rect x="1049.82" y="2311.81" width="13.046000000000001" height="17.7875" fill="#000"/>
<rect x="1097.26" y="2308.81" width="13.046000000000001" height="17.7875" fill="#000"/>
<rect x="1144.70" y="2296.01" width="13.046000000000001" height="17.7875" fill="#000"/>
<rect x="776.89" y="2206.01" width="10.42" height="14.78" fill="#fff" stroke="#000" stroke-width="1.3"/>
<rect x="824.33" y="2244.71" width="10.42" height="14.78" fill="#fff" stroke="#000" stroke-width="1.3"/>
<rect x="871.77" y="2289.41" width="10.42" height="14.78" fill="#fff" stroke="#000" stroke-width="1.3"/>
<rect x="919.21" y="2270.11" width="10.42" height="14.78" fill="#fff" stroke="#000" stroke-width="1.3"/>
<rect x="966.65" y="2287.01" width="10.42" height="14.78" fill="#fff" stroke="#000" stroke-width="1.3"/>
<rect x="1014.09" y="2281.41" width="10.42" height="14.78" fill="#fff" stroke="#000" stroke-width="1.3"/>
<rect x="1061.53" y="2274.51" width="10.42" height="14.78" fill="#fff" stroke="#000" stroke-width="1.3"/>
<rect x="1108.97" y="2306.71" width="10.42" height="14.78" fill="#fff" stroke="#000" stroke-width="1.3"/>
<rect x="1156.41" y="2292.41" width="10.42" height="14.78" fill="#fff" stroke="#000" stroke-width="1.3"/>
<rect x="784.93" y="2287.83" width="11.148399999999999" height="14.941500000000001" fill="#808080"/>
<rect x="832.37" y="2302.73" width="11.148399999999999" height="14.941500000000001" fill="#808080"/>
<rect x="879.81" y="2325.73" width="11.148399999999999" height="14.941500000000001" fill="#808080"/>
<rect x="927.25" y="2338.53" width="11.148399999999999" height="14.941500000000001" fill="#808080"/>
<rect x="974.69" y="2334.03" width="11.148399999999999" height="14.941500000000001" fill="#808080"/>
<rect x="1022.13" y="2334.93" width="11.148399999999999" height="14.941500000000001" fill="#808080"/>
<rect x="1069.57" y="2334.03" width="11.148399999999999" height="14.941500000000001" fill="#808080"/>
<rect x="1117.01" y="2324.53" width="11.148399999999999" height="14.941500000000001" fill="#808080"/>
<rect x="1164.45" y="2316.73" width="11.148399999999999" height="14.941500000000001" fill="#808080"/>
<rect x="794.67" y="2276.10" width="11.86" height="15.80" fill="#8a8a8a"/><polygon points="794.67,2276.10 806.53,2276.10 800.60,2284.00" fill="url(#gt)"/><polygon points="794.67,2291.90 806.53,2291.90 800.60,2284.00" fill="url(#gb)"/><polygon points="794.67,2276.10 794.67,2291.90 800.60,2284.00" fill="url(#gl)"/><polygon points="806.53,2276.10 806.53,2291.90 800.60,2284.00" fill="url(#gr)"/><rect x="795.42" y="2276.85" width="10.36" height="14.30" fill="none" stroke="#1a1a1a" stroke-width="1.5"/>
<rect x="842.11" y="2276.10" width="11.86" height="15.80" fill="#8a8a8a"/><polygon points="842.11,2276.10 853.97,2276.10 848.04,2284.00" fill="url(#gt)"/><polygon points="842.11,2291.90 853.97,2291.90 848.04,2284.00" fill="url(#gb)"/><polygon points="842.11,2276.10 842.11,2291.90 848.04,2284.00" fill="url(#gl)"/><polygon points="853.97,2276.10 853.97,2291.90 848.04,2284.00" fill="url(#gr)"/><rect x="842.86" y="2276.85" width="10.36" height="14.30" fill="none" stroke="#1a1a1a" stroke-width="1.5"/>
<rect x="889.55" y="2325.30" width="11.86" height="15.80" fill="#8a8a8a"/><polygon points="889.55,2325.30 901.41,2325.30 895.48,2333.20" fill="url(#gt)"/><polygon points="889.55,2341.10 901.41,2341.10 895.48,2333.20" fill="url(#gb)"/><polygon points="889.55,2325.30 889.55,2341.10 895.48,2333.20" fill="url(#gl)"/><polygon points="901.41,2325.30 901.41,2341.10 895.48,2333.20" fill="url(#gr)"/><rect x="890.30" y="2326.05" width="10.36" height="14.30" fill="none" stroke="#1a1a1a" stroke-width="1.5"/>
<rect x="936.99" y="2331.20" width="11.86" height="15.80" fill="#8a8a8a"/><polygon points="936.99,2331.20 948.85,2331.20 942.92,2339.10" fill="url(#gt)"/><polygon points="936.99,2347.00 948.85,2347.00 942.92,2339.10" fill="url(#gb)"/><polygon points="936.99,2331.20 936.99,2347.00 942.92,2339.10" fill="url(#gl)"/><polygon points="948.85,2331.20 948.85,2347.00 942.92,2339.10" fill="url(#gr)"/><rect x="937.74" y="2331.95" width="10.36" height="14.30" fill="none" stroke="#1a1a1a" stroke-width="1.5"/>
<rect x="984.43" y="2317.20" width="11.86" height="15.80" fill="#8a8a8a"/><polygon points="984.43,2317.20 996.29,2317.20 990.36,2325.10" fill="url(#gt)"/><polygon points="984.43,2333.00 996.29,2333.00 990.36,2325.10" fill="url(#gb)"/><polygon points="984.43,2317.20 984.43,2333.00 990.36,2325.10" fill="url(#gl)"/><polygon points="996.29,2317.20 996.29,2333.00 990.36,2325.10" fill="url(#gr)"/><rect x="985.18" y="2317.95" width="10.36" height="14.30" fill="none" stroke="#1a1a1a" stroke-width="1.5"/>
<rect x="1031.87" y="2329.70" width="11.86" height="15.80" fill="#8a8a8a"/><polygon points="1031.87,2329.70 1043.73,2329.70 1037.80,2337.60" fill="url(#gt)"/><polygon points="1031.87,2345.50 1043.73,2345.50 1037.80,2337.60" fill="url(#gb)"/><polygon points="1031.87,2329.70 1031.87,2345.50 1037.80,2337.60" fill="url(#gl)"/><polygon points="1043.73,2329.70 1043.73,2345.50 1037.80,2337.60" fill="url(#gr)"/><rect x="1032.62" y="2330.45" width="10.36" height="14.30" fill="none" stroke="#1a1a1a" stroke-width="1.5"/>
<rect x="1079.31" y="2303.80" width="11.86" height="15.80" fill="#8a8a8a"/><polygon points="1079.31,2303.80 1091.17,2303.80 1085.24,2311.70" fill="url(#gt)"/><polygon points="1079.31,2319.60 1091.17,2319.60 1085.24,2311.70" fill="url(#gb)"/><polygon points="1079.31,2303.80 1079.31,2319.60 1085.24,2311.70" fill="url(#gl)"/><polygon points="1091.17,2303.80 1091.17,2319.60 1085.24,2311.70" fill="url(#gr)"/><rect x="1080.06" y="2304.55" width="10.36" height="14.30" fill="none" stroke="#1a1a1a" stroke-width="1.5"/>
<rect x="1126.75" y="2260.60" width="11.86" height="15.80" fill="#8a8a8a"/><polygon points="1126.75,2260.60 1138.61,2260.60 1132.68,2268.50" fill="url(#gt)"/><polygon points="1126.75,2276.40 1138.61,2276.40 1132.68,2268.50" fill="url(#gb)"/><polygon points="1126.75,2260.60 1126.75,2276.40 1132.68,2268.50" fill="url(#gl)"/><polygon points="1138.61,2260.60 1138.61,2276.40 1132.68,2268.50" fill="url(#gr)"/><rect x="1127.50" y="2261.35" width="10.36" height="14.30" fill="none" stroke="#1a1a1a" stroke-width="1.5"/>
<rect x="1174.19" y="2286.50" width="11.86" height="15.80" fill="#8a8a8a"/><polygon points="1174.19,2286.50 1186.05,2286.50 1180.12,2294.40" fill="url(#gt)"/><polygon points="1174.19,2302.30 1186.05,2302.30 1180.12,2294.40" fill="url(#gb)"/><polygon points="1174.19,2286.50 1174.19,2302.30 1180.12,2294.40" fill="url(#gl)"/><polygon points="1186.05,2286.50 1186.05,2302.30 1180.12,2294.40" fill="url(#gr)"/><rect x="1174.94" y="2287.25" width="10.36" height="14.30" fill="none" stroke="#1a1a1a" stroke-width="1.5"/>
<path d="M1254.10,1805.40V2373.80M1248.60,2373.80H1691.20" stroke="#474747" stroke-width="1.3" fill="none"/>
<path d="M1248.60,2231.70H1254.10M1248.60,2089.60H1254.10M1248.60,1947.50H1254.10M1248.60,1805.40H1254.10M1290.80,2373.80v7M1337.88,2373.80v7M1384.96,2373.80v7M1432.04,2373.80v7M1479.12,2373.80v7M1526.20,2373.80v7M1573.28,2373.80v7M1620.36,2373.80v7M1667.44,2373.80v7" stroke="#474747" stroke-width="1.3" fill="none"/>
<text transform="translate(1237.76,2379.24) scale(0.7002,1.0003)" font-size="15.77" fill="#333">0</text>
<text transform="translate(1237.87,2237.14) scale(0.7002,1.0003)" font-size="15.77" fill="#333">1</text>
<text transform="translate(1237.87,2095.12) scale(0.7002,1.0003)" font-size="15.77" fill="#333">2</text>
<text transform="translate(1237.87,1952.94) scale(0.7002,1.0003)" font-size="15.77" fill="#333">3</text>
<text transform="translate(1237.65,1810.92) scale(0.7002,1.0003)" font-size="15.77" fill="#333">4</text>
<text transform="translate(1295.12,2410.12) rotate(-90) scale(1.0633,0.9996)" font-size="12.54" fill="#333">E01</text>
<text transform="translate(1342.20,2410.12) rotate(-90) scale(1.0633,0.9996)" font-size="12.54" fill="#333">E02</text>
<text transform="translate(1389.28,2410.12) rotate(-90) scale(1.0633,0.9996)" font-size="12.54" fill="#333">E03</text>
<text transform="translate(1436.36,2410.38) rotate(-90) scale(1.0633,0.9996)" font-size="12.54" fill="#333">E04</text>
<text transform="translate(1483.44,2410.25) rotate(-90) scale(1.0633,0.9996)" font-size="12.54" fill="#333">E05</text>
<text transform="translate(1530.52,2410.12) rotate(-90) scale(1.0633,0.9996)" font-size="12.54" fill="#333">E06</text>
<text transform="translate(1577.60,2410.12) rotate(-90) scale(1.0633,0.9996)" font-size="12.54" fill="#333">E07</text>
<text transform="translate(1624.68,2410.12) rotate(-90) scale(1.0633,0.9996)" font-size="12.54" fill="#333">E08</text>
<text transform="translate(1671.76,2410.12) rotate(-90) scale(1.0633,0.9996)" font-size="12.54" fill="#333">E09</text>
<rect x="1257.3" y="2358" width="262.40" height="11.30" fill="#000"/>
<path d="M1276.60,2271.40V2304.70M1323.68,2227.60V2290.70M1370.76,2303.80V2329.30M1417.84,2278.60V2329.30M1464.92,2315.60V2350.60M1512.00,2314.50V2351.20M1559.08,2279.50V2346.80M1606.16,2311.50V2345.30M1653.24,2298.70V2344.10M1286.40,2205.30V2238.50M1333.48,2248.30V2275.90M1380.56,2285.40V2309.10M1427.64,2241.80V2283.90M1474.72,2272.60V2304.70M1521.80,2283.00V2318.60M1568.88,2272.60V2309.10M1615.96,2298.10V2315.60M1295.20,2278.90V2313.60M1342.28,2300.80V2332.80M1389.36,2328.40V2352.10M1483.52,2317.40V2346.20M1530.60,2332.80V2352.10M1577.68,2318.00V2342.60M1624.76,2329.90V2347.10M1671.84,2329.90V2347.10M1305.60,2211.20V2280.90M1352.68,2284.50V2318.60M1399.76,2321.90V2341.70M1446.84,2341.70V2352.10M1493.92,2338.80V2356.60M1541.00,2310.00V2339.40M1588.08,2318.00V2337.30M1635.16,2289.20V2324.80M1682.24,2301.10V2341.70" stroke="#666" stroke-width="1.2" fill="none"/>
<path d="M1272.83,2271.40h7.5328M1272.83,2304.70h7.5328M1319.91,2227.60h7.5328M1319.91,2290.70h7.5328M1366.99,2303.80h7.5328M1366.99,2329.30h7.5328M1414.07,2278.60h7.5328M1414.07,2329.30h7.5328M1461.15,2315.60h7.5328M1461.15,2350.60h7.5328M1508.23,2314.50h7.5328M1508.23,2351.20h7.5328M1555.31,2279.50h7.5328M1555.31,2346.80h7.5328M1602.39,2311.50h7.5328M1602.39,2345.30h7.5328M1649.47,2298.70h7.5328M1649.47,2344.10h7.5328M1282.63,2205.30h7.5328M1282.63,2238.50h7.5328M1329.71,2248.30h7.5328M1329.71,2275.90h7.5328M1376.79,2285.40h7.5328M1376.79,2309.10h7.5328M1423.87,2241.80h7.5328M1423.87,2283.90h7.5328M1470.95,2272.60h7.5328M1470.95,2304.70h7.5328M1518.03,2283.00h7.5328M1518.03,2318.60h7.5328M1565.11,2272.60h7.5328M1565.11,2309.10h7.5328M1612.19,2298.10h7.5328M1612.19,2315.60h7.5328M1291.43,2278.90h7.5328M1291.43,2313.60h7.5328M1338.51,2300.80h7.5328M1338.51,2332.80h7.5328M1385.59,2328.40h7.5328M1385.59,2352.10h7.5328M1479.75,2317.40h7.5328M1479.75,2346.20h7.5328M1526.83,2332.80h7.5328M1526.83,2352.10h7.5328M1573.91,2318.00h7.5328M1573.91,2342.60h7.5328M1620.99,2329.90h7.5328M1620.99,2347.10h7.5328M1668.07,2329.90h7.5328M1668.07,2347.10h7.5328M1301.83,2211.20h7.5328M1301.83,2280.90h7.5328M1348.91,2284.50h7.5328M1348.91,2318.60h7.5328M1395.99,2321.90h7.5328M1395.99,2341.70h7.5328M1443.07,2341.70h7.5328M1443.07,2352.10h7.5328M1490.15,2338.80h7.5328M1490.15,2356.60h7.5328M1537.23,2310.00h7.5328M1537.23,2339.40h7.5328M1584.31,2318.00h7.5328M1584.31,2337.30h7.5328M1631.39,2289.20h7.5328M1631.39,2324.80h7.5328M1678.47,2301.10h7.5328M1678.47,2341.70h7.5328" stroke="#333" stroke-width="1.3" fill="none"/>
<polyline points="1276.60,2287.50 1323.68,2258.70 1370.76,2315.90 1417.84,2303.80 1464.92,2332.20 1512.00,2332.80 1559.08,2313.60 1606.16,2329.00 1653.24,2321.60" fill="none" stroke="#000" stroke-width="1.9" stroke-linejoin="round"/>
<polyline points="1286.40,2222.50 1333.48,2262.60 1380.56,2297.20 1427.64,2262.60 1474.72,2288.40 1521.80,2301.10 1568.88,2290.70 1615.96,2306.70 1663.04,2324.00" fill="none" stroke="#000" stroke-width="1.9" stroke-linejoin="round"/>
<polyline points="1295.20,2295.80 1342.28,2317.10 1389.36,2340.30 1436.44,2351.20 1483.52,2332.00 1530.60,2342.60 1577.68,2330.50 1624.76,2338.80 1671.84,2338.80" fill="none" stroke="#808080" stroke-width="1.9" stroke-linejoin="round"/>
<polyline points="1305.60,2246.80 1352.68,2301.70 1399.76,2332.00 1446.84,2346.80 1493.92,2347.70 1541.00,2324.80 1588.08,2327.50 1635.16,2307.00 1682.24,2321.60" fill="none" stroke="#000" stroke-width="1.9" stroke-linejoin="round"/>
<rect x="1270.13" y="2278.62" width="12.947000000000001" height="17.7625" fill="#000"/>
<rect x="1317.21" y="2249.82" width="12.947000000000001" height="17.7625" fill="#000"/>
<rect x="1364.29" y="2307.02" width="12.947000000000001" height="17.7625" fill="#000"/>
<rect x="1411.37" y="2294.92" width="12.947000000000001" height="17.7625" fill="#000"/>
<rect x="1458.45" y="2323.32" width="12.947000000000001" height="17.7625" fill="#000"/>
<rect x="1505.53" y="2323.92" width="12.947000000000001" height="17.7625" fill="#000"/>
<rect x="1552.61" y="2304.72" width="12.947000000000001" height="17.7625" fill="#000"/>
<rect x="1599.69" y="2320.12" width="12.947000000000001" height="17.7625" fill="#000"/>
<rect x="1646.77" y="2312.72" width="12.947000000000001" height="17.7625" fill="#000"/>
<rect x="1281.24" y="2215.12" width="10.33" height="14.76" fill="#fff" stroke="#000" stroke-width="1.3"/>
<rect x="1328.32" y="2255.22" width="10.33" height="14.76" fill="#fff" stroke="#000" stroke-width="1.3"/>
<rect x="1375.40" y="2289.82" width="10.33" height="14.76" fill="#fff" stroke="#000" stroke-width="1.3"/>
<rect x="1422.48" y="2255.22" width="10.33" height="14.76" fill="#fff" stroke="#000" stroke-width="1.3"/>
<rect x="1469.56" y="2281.02" width="10.33" height="14.76" fill="#fff" stroke="#000" stroke-width="1.3"/>
<rect x="1516.64" y="2293.72" width="10.33" height="14.76" fill="#fff" stroke="#000" stroke-width="1.3"/>
<rect x="1563.72" y="2283.32" width="10.33" height="14.76" fill="#fff" stroke="#000" stroke-width="1.3"/>
<rect x="1610.80" y="2299.32" width="10.33" height="14.76" fill="#fff" stroke="#000" stroke-width="1.3"/>
<rect x="1657.88" y="2316.62" width="10.33" height="14.76" fill="#fff" stroke="#000" stroke-width="1.3"/>
<rect x="1289.67" y="2288.34" width="11.063799999999999" height="14.920499999999999" fill="#808080"/>
<rect x="1336.75" y="2309.64" width="11.063799999999999" height="14.920499999999999" fill="#808080"/>
<rect x="1383.83" y="2332.84" width="11.063799999999999" height="14.920499999999999" fill="#808080"/>
<rect x="1430.91" y="2343.74" width="11.063799999999999" height="14.920499999999999" fill="#808080"/>
<rect x="1477.99" y="2324.54" width="11.063799999999999" height="14.920499999999999" fill="#808080"/>
<rect x="1525.07" y="2335.14" width="11.063799999999999" height="14.920499999999999" fill="#808080"/>
<rect x="1572.15" y="2323.04" width="11.063799999999999" height="14.920499999999999" fill="#808080"/>
<rect x="1619.23" y="2331.34" width="11.063799999999999" height="14.920499999999999" fill="#808080"/>
<rect x="1666.31" y="2331.34" width="11.063799999999999" height="14.920499999999999" fill="#808080"/>
<rect x="1299.71" y="2238.91" width="11.77" height="15.77" fill="#8a8a8a"/><polygon points="1299.71,2238.91 1311.48,2238.91 1305.60,2246.80" fill="url(#gt)"/><polygon points="1299.71,2254.69 1311.48,2254.69 1305.60,2246.80" fill="url(#gb)"/><polygon points="1299.71,2238.91 1299.71,2254.69 1305.60,2246.80" fill="url(#gl)"/><polygon points="1311.48,2238.91 1311.48,2254.69 1305.60,2246.80" fill="url(#gr)"/><rect x="1300.46" y="2239.66" width="10.27" height="14.27" fill="none" stroke="#1a1a1a" stroke-width="1.5"/>
<rect x="1346.79" y="2293.81" width="11.77" height="15.77" fill="#8a8a8a"/><polygon points="1346.79,2293.81 1358.56,2293.81 1352.68,2301.70" fill="url(#gt)"/><polygon points="1346.79,2309.59 1358.56,2309.59 1352.68,2301.70" fill="url(#gb)"/><polygon points="1346.79,2293.81 1346.79,2309.59 1352.68,2301.70" fill="url(#gl)"/><polygon points="1358.56,2293.81 1358.56,2309.59 1352.68,2301.70" fill="url(#gr)"/><rect x="1347.54" y="2294.56" width="10.27" height="14.27" fill="none" stroke="#1a1a1a" stroke-width="1.5"/>
<rect x="1393.88" y="2324.11" width="11.77" height="15.77" fill="#8a8a8a"/><polygon points="1393.88,2324.11 1405.64,2324.11 1399.76,2332.00" fill="url(#gt)"/><polygon points="1393.88,2339.89 1405.64,2339.89 1399.76,2332.00" fill="url(#gb)"/><polygon points="1393.88,2324.11 1393.88,2339.89 1399.76,2332.00" fill="url(#gl)"/><polygon points="1405.64,2324.11 1405.64,2339.89 1399.76,2332.00" fill="url(#gr)"/><rect x="1394.62" y="2324.86" width="10.27" height="14.27" fill="none" stroke="#1a1a1a" stroke-width="1.5"/>
<rect x="1440.95" y="2338.91" width="11.77" height="15.77" fill="#8a8a8a"/><polygon points="1440.95,2338.91 1452.72,2338.91 1446.84,2346.80" fill="url(#gt)"/><polygon points="1440.95,2354.69 1452.72,2354.69 1446.84,2346.80" fill="url(#gb)"/><polygon points="1440.95,2338.91 1440.95,2354.69 1446.84,2346.80" fill="url(#gl)"/><polygon points="1452.72,2338.91 1452.72,2354.69 1446.84,2346.80" fill="url(#gr)"/><rect x="1441.70" y="2339.66" width="10.27" height="14.27" fill="none" stroke="#1a1a1a" stroke-width="1.5"/>
<rect x="1488.03" y="2339.81" width="11.77" height="15.77" fill="#8a8a8a"/><polygon points="1488.03,2339.81 1499.80,2339.81 1493.92,2347.70" fill="url(#gt)"/><polygon points="1488.03,2355.59 1499.80,2355.59 1493.92,2347.70" fill="url(#gb)"/><polygon points="1488.03,2339.81 1488.03,2355.59 1493.92,2347.70" fill="url(#gl)"/><polygon points="1499.80,2339.81 1499.80,2355.59 1493.92,2347.70" fill="url(#gr)"/><rect x="1488.78" y="2340.56" width="10.27" height="14.27" fill="none" stroke="#1a1a1a" stroke-width="1.5"/>
<rect x="1535.11" y="2316.91" width="11.77" height="15.77" fill="#8a8a8a"/><polygon points="1535.11,2316.91 1546.88,2316.91 1541.00,2324.80" fill="url(#gt)"/><polygon points="1535.11,2332.69 1546.88,2332.69 1541.00,2324.80" fill="url(#gb)"/><polygon points="1535.11,2316.91 1535.11,2332.69 1541.00,2324.80" fill="url(#gl)"/><polygon points="1546.88,2316.91 1546.88,2332.69 1541.00,2324.80" fill="url(#gr)"/><rect x="1535.86" y="2317.66" width="10.27" height="14.27" fill="none" stroke="#1a1a1a" stroke-width="1.5"/>
<rect x="1582.19" y="2319.61" width="11.77" height="15.77" fill="#8a8a8a"/><polygon points="1582.19,2319.61 1593.96,2319.61 1588.08,2327.50" fill="url(#gt)"/><polygon points="1582.19,2335.39 1593.96,2335.39 1588.08,2327.50" fill="url(#gb)"/><polygon points="1582.19,2319.61 1582.19,2335.39 1588.08,2327.50" fill="url(#gl)"/><polygon points="1593.96,2319.61 1593.96,2335.39 1588.08,2327.50" fill="url(#gr)"/><rect x="1582.94" y="2320.36" width="10.27" height="14.27" fill="none" stroke="#1a1a1a" stroke-width="1.5"/>
<rect x="1629.27" y="2299.11" width="11.77" height="15.77" fill="#8a8a8a"/><polygon points="1629.27,2299.11 1641.04,2299.11 1635.16,2307.00" fill="url(#gt)"/><polygon points="1629.27,2314.89 1641.04,2314.89 1635.16,2307.00" fill="url(#gb)"/><polygon points="1629.27,2299.11 1629.27,2314.89 1635.16,2307.00" fill="url(#gl)"/><polygon points="1641.04,2299.11 1641.04,2314.89 1635.16,2307.00" fill="url(#gr)"/><rect x="1630.02" y="2299.86" width="10.27" height="14.27" fill="none" stroke="#1a1a1a" stroke-width="1.5"/>
<rect x="1676.36" y="2313.71" width="11.77" height="15.77" fill="#8a8a8a"/><polygon points="1676.36,2313.71 1688.12,2313.71 1682.24,2321.60" fill="url(#gt)"/><polygon points="1676.36,2329.49 1688.12,2329.49 1682.24,2321.60" fill="url(#gb)"/><polygon points="1676.36,2313.71 1676.36,2329.49 1682.24,2321.60" fill="url(#gl)"/><polygon points="1688.12,2313.71 1688.12,2329.49 1682.24,2321.60" fill="url(#gr)"/><rect x="1677.11" y="2314.46" width="10.27" height="14.27" fill="none" stroke="#1a1a1a" stroke-width="1.5"/>
<rect x="589.3" y="427" width="12.5" height="16" fill="#000"/>
<rect x="590.8" y="450.3" width="12.1" height="14.2" fill="#fff" stroke="#000" stroke-width="2"/>
<rect x="632.9" y="1290.1" width="13.9" height="17.8" fill="#000"/>
<rect x="633.3" y="1313.2" width="11.9" height="17.6" fill="#fff" stroke="#000" stroke-width="1.8"/>
<rect x="632.9" y="1337.1" width="13.9" height="17.8" fill="#808080"/>
<rect x="632.90" y="1360.10" width="13.90" height="18.50" fill="#8a8a8a"/><polygon points="632.90,1360.10 646.80,1360.10 639.85,1369.35" fill="url(#gt)"/><polygon points="632.90,1378.60 646.80,1378.60 639.85,1369.35" fill="url(#gb)"/><polygon points="632.90,1360.10 632.90,1378.60 639.85,1369.35" fill="url(#gl)"/><polygon points="646.80,1360.10 646.80,1378.60 639.85,1369.35" fill="url(#gr)"/><rect x="633.8" y="1361.0" width="12.1" height="16.7" fill="none" stroke="#111" stroke-width="1.8"/>
<rect x="642.6" y="2050.4" width="13.4" height="16.5" fill="#000"/>
<rect x="642.6" y="2094.0" width="13.4" height="16.2" fill="#808080"/>
<rect x="642.60" y="2114.80" width="13.40" height="17.50" fill="#8a8a8a"/><polygon points="642.60,2114.80 656.00,2114.80 649.30,2123.55" fill="url(#gt)"/><polygon points="642.60,2132.30 656.00,2132.30 649.30,2123.55" fill="url(#gb)"/><polygon points="642.60,2114.80 642.60,2132.30 649.30,2123.55" fill="url(#gl)"/><polygon points="656.00,2114.80 656.00,2132.30 649.30,2123.55" fill="url(#gr)"/><rect x="643.5" y="2115.7" width="11.6" height="15.7" fill="none" stroke="#111" stroke-width="1.8"/>
<rect x="1448.9" y="1141.5" width="128.5" height="2.5" fill="#000"/>
<rect x="1460.0" y="1795.9" width="167.6" height="2.7" fill="#000"/>
<rect x="1485" y="923.4" width="4" height="1.3" fill="#c4c4c4"/>
<text transform="translate(33.72,43.68) scale(0.9578,0.9999)" font-size="37.65" font-weight="bold" fill="#000">A</text>
<text transform="translate(34.02,965.80) scale(0.9774,1.0001)" font-size="36.23" font-weight="bold" fill="#000">B</text>
<text transform="translate(261.22,41.50) scale(0.9712,1.0000)" font-size="40.87" font-weight="bold" fill="#000">ITI-1</text>
<text transform="translate(343.86,27.94) scale(0.8948,1.0001)" font-size="26.21" font-weight="bold" fill="#000">st</text>
<text transform="translate(375.59,41.50) scale(1.0134,1.0000)" font-size="39.59" font-weight="bold" fill="#000">min</text>
<text transform="translate(848.53,42.60) scale(0.9826,0.9999)" font-size="40.29" font-weight="bold" fill="#000">ITI-2</text>
<text transform="translate(931.01,29.00) scale(0.9469,0.9999)" font-size="26.99" font-weight="bold" fill="#000">nd</text>
<text transform="translate(972.28,42.60) scale(1.0041,0.9999)" font-size="40.14" font-weight="bold" fill="#000">min</text>
<text transform="translate(1365.53,41.10) scale(0.9954,1.0000)" font-size="39.72" font-weight="bold" fill="#000">ITI-3</text>
<text transform="translate(1448.30,28.60) scale(1.1436,0.9998)" font-size="22.47" font-weight="bold" fill="#000">rd</text>
<text transform="translate(1480.28,41.50) scale(1.0180,1.0000)" font-size="39.59" font-weight="bold" fill="#000">min</text>
<text transform="translate(229.46,962.60) scale(0.9643,1.0000)" font-size="40.58" font-weight="bold" fill="#000">ITI-1</text>
<text transform="translate(311.13,948.75) scale(0.9543,1.0002)" font-size="25.45" font-weight="bold" fill="#000">st</text>
<text transform="translate(343.37,962.60) scale(1.0086,0.9999)" font-size="40.14" font-weight="bold" fill="#000">min</text>
<text transform="translate(840.50,963.90) scale(1.0022,0.9999)" font-size="39.86" font-weight="bold" fill="#000">ITI-2</text>
<text transform="translate(922.65,950.60) scale(0.9665,0.9999)" font-size="27.4" font-weight="bold" fill="#000">nd</text>
<text transform="translate(964.90,963.90) scale(0.9950,0.9999)" font-size="40.14" font-weight="bold" fill="#000">min</text>
<text transform="translate(1380.10,962.20) scale(0.9930,1.0000)" font-size="40.28" font-weight="bold" fill="#000">ITI-3</text>
<text transform="translate(1462.31,949.00) scale(0.9846,0.9999)" font-size="27.4" font-weight="bold" fill="#000">rd</text>
<text transform="translate(1495.19,962.60) scale(0.9777,0.9999)" font-size="41.1" font-weight="bold" fill="#000">min</text>
<text transform="translate(250.64,832.70) scale(0.8768,1.0000)" font-size="40.14" font-weight="bold" fill="#000">SESSION</text>
<text transform="translate(844.15,834.80) scale(0.8846,0.9999)" font-size="39.58" font-weight="bold" fill="#000">SESSION</text>
<text transform="translate(1398.25,833.99) scale(0.8585,1.0001)" font-size="40.7" font-weight="bold" fill="#000">SESSION</text>
<text transform="translate(236.05,2485.51) scale(0.9028,1.0001)" font-size="38.73" font-weight="bold" fill="#000">SESSION</text>
<text transform="translate(862.85,2488.40) scale(0.8852,0.9999)" font-size="39.58" font-weight="bold" fill="#000">SESSION</text>
<text transform="translate(1419.45,2487.10) scale(0.8857,0.9999)" font-size="39.58" font-weight="bold" fill="#000">SESSION</text>
<text transform="translate(59.30,715.16) rotate(-90) scale(0.8447,1.0000)" font-size="39.86" font-weight="bold" fill="#000">LEVER-PRESSES</text>
<text transform="translate(59.70,421.57) rotate(-90) scale(0.8248,1.0001)" font-size="41.01" font-weight="bold" fill="#000">PER</text>
<text transform="translate(59.30,341.20) rotate(-90) scale(0.9894,1.0000)" font-size="40.43" font-weight="bold" fill="#000">MINUTE</text>
<text transform="translate(37.10,2003.37) rotate(-90) scale(0.8468,1.0000)" font-size="40.0" font-weight="bold" fill="#000">LEVER-PRESS</text>
<text transform="translate(37.50,1752.15) rotate(-90) scale(0.8144,1.0000)" font-size="41.16" font-weight="bold" fill="#000">PER</text>
<text transform="translate(37.09,1673.01) rotate(-90) scale(0.9899,1.0000)" font-size="40.57" font-weight="bold" fill="#000">MINUTE</text>
<text transform="translate(1448.55,1138.30) scale(0.8731,1.0000)" font-size="40.0" font-weight="bold" fill="#000">SD</text>
<text transform="translate(1507.60,1138.60) scale(0.9651,1.0000)" font-size="40.0" font-weight="bold" fill="#000">rats</text>
<text transform="translate(1460.20,1793.90) scale(0.9024,1.0001)" font-size="41.88" font-weight="bold" fill="#000">WKY</text>
<text transform="translate(1557.69,1793.89) scale(0.9465,1.0000)" font-size="40.91" font-weight="bold" fill="#000">rats</text>
<text transform="translate(612.45,441.27) scale(0.6618,0.9998)" font-size="12.82" font-weight="bold" fill="#000">SD</text>
<text transform="translate(612.30,462.40) scale(0.7210,1.0003)" font-size="13.33" font-weight="bold" fill="#000">WKY</text>
<text transform="translate(658.05,1305.96) scale(0.7485,0.9997)" font-size="14.29" font-weight="bold" fill="#000">BUP</text>
<text transform="translate(658.37,1329.06) scale(0.7947,1.0001)" font-size="13.66" font-weight="bold" fill="#000">CTL</text>
<text transform="translate(658.06,1352.86) scale(0.7541,1.0003)" font-size="13.94" font-weight="bold" fill="#000">DES</text>
<text transform="translate(658.24,1376.10) scale(0.7579,0.9998)" font-size="14.35" font-weight="bold" fill="#000">PAR</text>
<text transform="translate(667.18,2064.97) scale(0.7705,0.9999)" font-size="13.43" font-weight="bold" fill="#000">BUP</text>
<text transform="translate(667.47,2086.77) scale(0.8078,1.0000)" font-size="13.24" font-weight="bold" fill="#000">CTL</text>
<text transform="translate(667.18,2108.56) scale(0.7546,1.0001)" font-size="13.66" font-weight="bold" fill="#000">DES</text>
<text transform="translate(667.26,2130.00) scale(0.8011,0.9999)" font-size="13.19" font-weight="bold" fill="#000">PAR</text>
</svg>
</body></html>
